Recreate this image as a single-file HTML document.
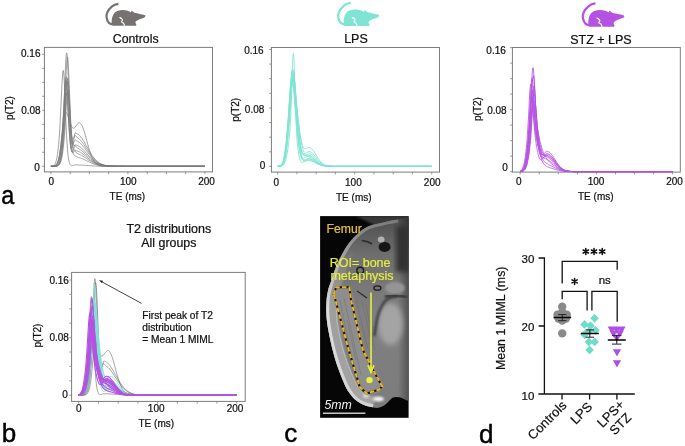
<!DOCTYPE html>
<html><head><meta charset="utf-8"><title>Figure</title>
<style>
html,body{margin:0;padding:0;background:#fff;}
body{width:685px;height:446px;overflow:hidden;font-family:"Liberation Sans", sans-serif;}
svg{display:block;will-change:transform;}
text{stroke:#111;stroke-width:0.22px;}
text.c{stroke:none;}
text.p{stroke:#000;stroke-width:0.45px;}
</style></head><body>
<svg width="685" height="446" viewBox="0 0 685 446" font-family='"Liberation Sans", sans-serif' fill="#111">
<rect width="685" height="446" fill="#fff"/>
<g transform="translate(0,0) scale(1.0)"><path d="M118.4,3.8 C115.5,4.1 113.3,5.2 111.8,6.6 C109.5,8.5 107.9,10.5 107.2,12.6 C106.4,14.6 106.3,16.1 106.6,17.7 C106.9,19.8 107.7,21.4 108.7,22.6 C109.8,23.6 111,24.1 112.3,24.3" stroke="#767271" stroke-width="2.2" fill="none"/><path d="M112.4,25.8 C111.6,23.5 111.4,21 111.9,19.1 C112.3,16.8 112.8,15 113.8,13.9 C114.8,12.5 116,11.6 117.3,11.1 C119,10.4 121,10.1 122.9,10.1 C124.6,10.1 126.3,10.4 127.7,10.8 C129,11.3 130.2,11.9 130.9,12.5 L131.6,10.6 L134.4,12.8 C136.2,13.2 138,13.5 139.6,13.9 C141.4,14.2 143.1,14.5 144.5,14.9 C145.3,15.1 145.7,15.6 145.5,16.1 C145.3,16.8 144.9,17.2 144.5,17.4 C142.8,18 141.2,18.6 139.6,19.2 C138.2,19.8 136.8,20.6 135.7,21.5 C135.2,22.3 135.5,23.3 136.1,24.0 C136.4,24.6 136.4,25.2 136.1,25.8 Z" fill="#767271"/><path d="M119.2,17.2 L121.4,17.8 L122.4,19.3 L121,18.9 Z" fill="#fff"/><path d="M119.5,17.6 L121.1,18.3 C122,19 122.6,19.6 122.5,20.2 C122.3,20.9 121.6,21.4 121.5,21.9 C121.7,22.5 123,22.8 123.5,23.2 C124.1,24 124.4,25.2 124.6,26.6" stroke="#fff" stroke-width="1.1" stroke-linejoin="round" fill="none"/></g>
<g transform="translate(226.4,-1.1) scale(1.05)"><path d="M118.4,3.8 C115.5,4.1 113.3,5.2 111.8,6.6 C109.5,8.5 107.9,10.5 107.2,12.6 C106.4,14.6 106.3,16.1 106.6,17.7 C106.9,19.8 107.7,21.4 108.7,22.6 C109.8,23.6 111,24.1 112.3,24.3" stroke="#80e4d4" stroke-width="2.2" fill="none"/><path d="M112.4,25.8 C111.6,23.5 111.4,21 111.9,19.1 C112.3,16.8 112.8,15 113.8,13.9 C114.8,12.5 116,11.6 117.3,11.1 C119,10.4 121,10.1 122.9,10.1 C124.6,10.1 126.3,10.4 127.7,10.8 C129,11.3 130.2,11.9 130.9,12.5 L131.6,10.6 L134.4,12.8 C136.2,13.2 138,13.5 139.6,13.9 C141.4,14.2 143.1,14.5 144.5,14.9 C145.3,15.1 145.7,15.6 145.5,16.1 C145.3,16.8 144.9,17.2 144.5,17.4 C142.8,18 141.2,18.6 139.6,19.2 C138.2,19.8 136.8,20.6 135.7,21.5 C135.2,22.3 135.5,23.3 136.1,24.0 C136.4,24.6 136.4,25.2 136.1,25.8 Z" fill="#80e4d4"/><path d="M119.2,17.2 L121.4,17.8 L122.4,19.3 L121,18.9 Z" fill="#fff"/><path d="M119.5,17.6 L121.1,18.3 C122,19 122.6,19.6 122.5,20.2 C122.3,20.9 121.6,21.4 121.5,21.9 C121.7,22.5 123,22.8 123.5,23.2 C124.1,24 124.4,25.2 124.6,26.6" stroke="#fff" stroke-width="1.1" stroke-linejoin="round" fill="none"/></g>
<g transform="translate(469.6,-0.7) scale(1.063)"><path d="M118.4,3.8 C115.5,4.1 113.3,5.2 111.8,6.6 C109.5,8.5 107.9,10.5 107.2,12.6 C106.4,14.6 106.3,16.1 106.6,17.7 C106.9,19.8 107.7,21.4 108.7,22.6 C109.8,23.6 111,24.1 112.3,24.3" stroke="#b552e4" stroke-width="2.2" fill="none"/><path d="M112.4,25.8 C111.6,23.5 111.4,21 111.9,19.1 C112.3,16.8 112.8,15 113.8,13.9 C114.8,12.5 116,11.6 117.3,11.1 C119,10.4 121,10.1 122.9,10.1 C124.6,10.1 126.3,10.4 127.7,10.8 C129,11.3 130.2,11.9 130.9,12.5 L131.6,10.6 L134.4,12.8 C136.2,13.2 138,13.5 139.6,13.9 C141.4,14.2 143.1,14.5 144.5,14.9 C145.3,15.1 145.7,15.6 145.5,16.1 C145.3,16.8 144.9,17.2 144.5,17.4 C142.8,18 141.2,18.6 139.6,19.2 C138.2,19.8 136.8,20.6 135.7,21.5 C135.2,22.3 135.5,23.3 136.1,24.0 C136.4,24.6 136.4,25.2 136.1,25.8 Z" fill="#b552e4"/><path d="M119.2,17.2 L121.4,17.8 L122.4,19.3 L121,18.9 Z" fill="#fff"/><path d="M119.5,17.6 L121.1,18.3 C122,19 122.6,19.6 122.5,20.2 C122.3,20.9 121.6,21.4 121.5,21.9 C121.7,22.5 123,22.8 123.5,23.2 C124.1,24 124.4,25.2 124.6,26.6" stroke="#fff" stroke-width="1.1" stroke-linejoin="round" fill="none"/></g>
<text x="135.7" y="42.9" text-anchor="middle" font-size="12.3">Controls</text>
<text x="356" y="42.6" text-anchor="middle" font-size="12.5">LPS</text>
<text x="600.9" y="43.6" text-anchor="middle" font-size="12.5">STZ + LPS</text>
<rect x="44.4" y="47.4" width="168.1" height="124.5" fill="none" stroke="#7c7c7c" stroke-width="1"/>
<path d="M42.2,166.3H44.4M42.2,152.3H44.4M42.2,138.3H44.4M42.2,124.3H44.4M42.2,110.3H44.4M42.2,96.3H44.4M42.2,82.3H44.4M42.2,68.3H44.4M42.2,54.3H44.4M50.9,171.9V174.1M70.2,171.9V174.1M89.4,171.9V174.1M108.7,171.9V174.1M127.9,171.9V174.1M147.2,171.9V174.1M166.4,171.9V174.1M185.7,171.9V174.1M204.9,171.9V174.1" stroke="#7c7c7c" stroke-width="0.8" fill="none"/>
<text x="40.5" y="57.4" text-anchor="end" font-size="10">0.16</text>
<text x="40.6" y="113.6" text-anchor="end" font-size="10">0.08</text>
<text x="39.7" y="170.6" text-anchor="end" font-size="10">0</text>
<text x="51.2" y="184.6" text-anchor="middle" font-size="10">0</text>
<text x="128.3" y="184.6" text-anchor="middle" font-size="10">100</text>
<text x="206.6" y="184.6" text-anchor="middle" font-size="10">200</text>
<text x="109.6" y="200.1" font-size="10">TE (ms)</text>
<text transform="translate(9,108) rotate(-90)" text-anchor="middle" font-size="10" dy="3.6">p(T2)</text>
<path d="M50.9,166.3 51.7,166.3 52.4,166.3 53.2,166.3 54,166.3 54.4,166.2 54.8,166.2 55.1,166.1 55.5,166.1 55.9,166 56.3,165.8 56.7,165.6 57.1,165.3 57.4,164.9 57.8,164.4 58.2,163.7 58.6,162.8 59,161.7 59.4,160.4 59.8,158.7 60.1,156.6 60.5,154.2 60.9,151.3 61.3,147.9 61.7,144 62.1,139.5 62.5,134.3 62.8,128.3 63.2,121.4 63.6,113.5 64,104.6 64.4,95.1 64.8,85.1 65.1,75.2 65.5,66.3 65.9,59.2 66.3,54.5 66.7,52.9 67.1,54.6 67.5,59.4 67.8,66.9 68.2,76.2 68.6,86.4 69,96.9 69.4,106.8 69.8,115.9 70.2,124 70.5,130.9 70.9,136.6 71.3,141.4 71.7,145.3 72.1,148.3 72.5,150.7 72.8,152.4 73.2,153.6 73.6,154.4 74,155 74.4,155.3 74.8,155.5 75.2,155.8 75.5,156.1 75.9,156.4 76.3,156.7 76.7,156.9 77.1,157.1 77.5,157.2 77.8,157.3 78.2,157.4 78.6,157.5 79,157.6 79.4,157.7 79.8,157.8 80.2,157.9 80.5,158.1 80.9,158.2 81.3,158.3 81.7,158.5 82.5,158.8 83.2,159.1 84,159.5 84.8,159.8 85.5,160.2 86.3,160.6 87.1,161 87.9,161.3 88.6,161.7 89.4,162.1 90.2,162.4 90.9,162.8 91.7,163.1 92.5,163.4 93.2,163.7 94,164 94.8,164.2 95.6,164.5 96.3,164.7 97.1,164.9 97.9,165.1 98.6,165.2 99.4,165.4 100.2,165.5 101,165.6 101.7,165.7 102.5,165.8 103.3,165.9 104,165.9 104.8,166 105.6,166.1 106.3,166.1 107.1,166.1 107.9,166.2 108.7,166.2 109.4,166.2 110.2,166.2 111,166.2 111.7,166.3 112.5,166.3 113.3,166.3 114,166.3 114.8,166.3 115.6,166.3 116.3,166.3 117.1,166.3 117.9,166.3 118.7,166.3 119.4,166.3 120.2,166.3 121,166.3 121.7,166.3 122.5,166.3 123.3,166.3 124.1,166.3 204.9,166.3" stroke="#7a7a7a" stroke-width="0.7" fill="none"/>
<path d="M50.9,166.3 51.7,166.3 52.4,166.3 53.2,166.3 54,166.3 54.4,166.3 54.8,166.3 55.1,166.2 55.5,166.2 55.9,166.2 56.3,166.1 56.7,166 57.1,165.8 57.4,165.6 57.8,165.3 58.2,165 58.6,164.5 59,163.8 59.4,163 59.8,161.9 60.1,160.6 60.5,159 60.9,157 61.3,154.6 61.7,151.9 62.1,148.6 62.5,144.8 62.8,140.5 63.2,135.5 63.6,129.7 64,123 64.4,115.4 64.8,106.9 65.1,97.7 65.5,88.1 65.9,78.6 66.3,70 66.7,63.1 67.1,58.6 67.5,57.1 67.8,58.7 68.2,63.3 68.6,70.5 69,79.4 69.4,89.1 69.8,99.1 70.2,108.5 70.5,117 70.9,124.4 71.3,130.7 71.7,135.8 72.1,139.9 72.5,143.1 72.8,145.5 73.2,147.2 73.6,148.5 74,149.3 74.4,150 74.8,150.5 75.2,151 75.5,151.6 75.9,152.2 76.3,152.7 76.7,153 77.1,153.3 77.5,153.6 77.8,153.7 78.2,153.9 78.6,154.1 79,154.2 79.4,154.4 79.8,154.6 80.2,154.7 80.5,154.9 80.9,155.1 81.3,155.3 81.7,155.5 82.5,155.9 83.2,156.4 84,156.9 84.8,157.4 85.5,157.9 86.3,158.4 87.1,158.9 87.9,159.4 88.6,160 89.4,160.5 90.2,161 90.9,161.4 91.7,161.9 92.5,162.3 93.2,162.7 94,163.1 94.8,163.4 95.6,163.8 96.3,164.1 97.1,164.3 97.9,164.6 98.6,164.8 99.4,165 100.2,165.2 101,165.4 101.7,165.5 102.5,165.6 103.3,165.7 104,165.8 104.8,165.9 105.6,166 106.3,166 107.1,166.1 107.9,166.1 108.7,166.1 109.4,166.2 110.2,166.2 111,166.2 111.7,166.2 112.5,166.2 113.3,166.3 114,166.3 114.8,166.3 115.6,166.3 116.3,166.3 117.1,166.3 117.9,166.3 118.7,166.3 119.4,166.3 120.2,166.3 121,166.3 121.7,166.3 122.5,166.3 123.3,166.3 124.1,166.3 204.9,166.3" stroke="#7a7a7a" stroke-width="0.7" fill="none"/>
<path d="M50.9,166.3 51.7,166.3 52.4,166.3 53.2,166.2 54,166.1 54.4,166 54.8,165.9 55.1,165.7 55.5,165.5 55.9,165.3 56.3,164.9 56.7,164.5 57.1,163.9 57.4,163.3 57.8,162.4 58.2,161.4 58.6,160.2 59,158.7 59.4,157 59.8,155.1 60.1,152.8 60.5,150.3 60.9,147.5 61.3,144.4 61.7,140.8 62.1,136.8 62.5,132.3 62.8,127.2 63.2,121.4 63.6,115 64,107.9 64.4,100.6 64.8,93.3 65.1,86.7 65.5,81.4 65.9,77.9 66.3,76.7 66.7,78 67.1,81.9 67.5,87.7 67.8,95.1 68.2,103.2 68.6,111.4 69,119.3 69.4,126.4 69.8,132.6 70.2,138 70.5,142.4 70.9,145.9 71.3,148.6 71.7,150.6 72.1,151.9 72.5,152.6 72.8,152.9 73.2,152.7 73.6,152.2 74,151.6 74.4,151 74.8,150.5 75.2,150.3 75.5,150.3 75.9,150.5 76.3,150.7 76.7,150.8 77.1,150.9 77.5,151.1 77.8,151.2 78.2,151.3 78.6,151.5 79,151.6 79.4,151.8 79.8,152 80.2,152.2 80.5,152.4 80.9,152.6 81.3,152.8 81.7,153.1 82.5,153.6 83.2,154.2 84,154.8 84.8,155.4 85.5,156 86.3,156.6 87.1,157.3 87.9,157.9 88.6,158.6 89.4,159.2 90.2,159.8 90.9,160.4 91.7,160.9 92.5,161.4 93.2,161.9 94,162.4 94.8,162.8 95.6,163.2 96.3,163.6 97.1,163.9 97.9,164.2 98.6,164.5 99.4,164.7 100.2,165 101,165.1 101.7,165.3 102.5,165.5 103.3,165.6 104,165.7 104.8,165.8 105.6,165.9 106.3,166 107.1,166 107.9,166.1 108.7,166.1 109.4,166.1 110.2,166.2 111,166.2 111.7,166.2 112.5,166.2 113.3,166.2 114,166.3 114.8,166.3 115.6,166.3 116.3,166.3 117.1,166.3 117.9,166.3 118.7,166.3 119.4,166.3 120.2,166.3 121,166.3 121.7,166.3 122.5,166.3 123.3,166.3 124.1,166.3 204.9,166.3" stroke="#7a7a7a" stroke-width="0.7" fill="none"/>
<path d="M50.9,166.3 51.7,166.3 52.4,166.3 53.2,166.3 54,166.3 54.4,166.3 54.8,166.3 55.1,166.3 55.5,166.2 55.9,166.2 56.3,166.2 56.7,166.1 57.1,166 57.4,165.9 57.8,165.7 58.2,165.4 58.6,165.1 59,164.6 59.4,164 59.8,163.3 60.1,162.4 60.5,161.2 60.9,159.8 61.3,158.1 61.7,156 62.1,153.6 62.5,150.8 62.8,147.6 63.2,143.9 63.6,139.6 64,134.7 64.4,129 64.8,122.5 65.1,115.4 65.5,107.8 65.9,100 66.3,92.6 66.7,86.1 67.1,81.2 67.5,78.5 67.8,78.2 68.2,80.5 68.6,85.1 69,91.4 69.4,98.9 69.8,106.7 70.2,114.4 70.5,121.5 70.9,127.6 71.3,132.8 71.7,136.9 72.1,140 72.5,142.2 72.8,143.7 73.2,144.6 73.6,145.1 74,145.2 74.4,145.3 74.8,145.3 75.2,145.6 75.5,146 75.9,146.6 76.3,147.1 76.7,147.5 77.1,147.8 77.5,148 77.8,148.3 78.2,148.5 78.6,148.7 79,148.9 79.4,149.1 79.8,149.3 80.2,149.6 80.5,149.8 80.9,150.1 81.3,150.4 81.7,150.7 82.5,151.3 83.2,152 84,152.7 84.8,153.4 85.5,154.1 86.3,154.9 87.1,155.6 87.9,156.4 88.6,157.1 89.4,157.9 90.2,158.6 90.9,159.3 91.7,159.9 92.5,160.5 93.2,161.1 94,161.7 94.8,162.2 95.6,162.7 96.3,163.1 97.1,163.5 97.9,163.8 98.6,164.2 99.4,164.4 100.2,164.7 101,164.9 101.7,165.1 102.5,165.3 103.3,165.5 104,165.6 104.8,165.7 105.6,165.8 106.3,165.9 107.1,166 107.9,166 108.7,166.1 109.4,166.1 110.2,166.2 111,166.2 111.7,166.2 112.5,166.2 113.3,166.2 114,166.3 114.8,166.3 115.6,166.3 116.3,166.3 117.1,166.3 117.9,166.3 118.7,166.3 119.4,166.3 120.2,166.3 121,166.3 121.7,166.3 122.5,166.3 123.3,166.3 124.1,166.3 204.9,166.3" stroke="#7a7a7a" stroke-width="0.7" fill="none"/>
<path d="M50.9,166.3 51.7,166.3 52.4,166.2 53.2,166.2 54,166 54.4,165.9 54.8,165.8 55.1,165.6 55.5,165.3 55.9,165 56.3,164.5 56.7,164 57.1,163.3 57.4,162.5 57.8,161.5 58.2,160.4 58.6,159 59,157.3 59.4,155.4 59.8,153.3 60.1,150.8 60.5,148.1 60.9,145 61.3,141.6 61.7,137.8 62.1,133.4 62.5,128.5 62.8,122.8 63.2,116.6 63.6,109.8 64,102.6 64.4,95.6 64.8,89.2 65.1,84 65.5,80.7 65.9,79.5 66.3,80.8 66.7,84.5 67.1,90.2 67.5,97.3 67.8,105.2 68.2,113.1 68.6,120.8 69,127.7 69.4,133.8 69.8,138.9 70.2,143.2 70.5,146.5 70.9,149.1 71.3,150.9 71.7,152 72.1,152.4 72.5,152.2 72.8,151.5 73.2,150.5 73.6,149.2 74,147.8 74.4,146.6 74.8,145.6 75.2,145 75.5,144.9 75.9,145 76.3,145.2 76.7,145.3 77.1,145.4 77.5,145.6 77.8,145.7 78.2,145.9 78.6,146.1 79,146.3 79.4,146.5 79.8,146.8 80.2,147 80.5,147.3 80.9,147.6 81.3,147.9 81.7,148.3 82.5,149 83.2,149.7 84,150.6 84.8,151.4 85.5,152.3 86.3,153.1 87.1,154 87.9,154.9 88.6,155.7 89.4,156.6 90.2,157.4 90.9,158.2 91.7,158.9 92.5,159.7 93.2,160.3 94,161 94.8,161.5 95.6,162.1 96.3,162.6 97.1,163 97.9,163.5 98.6,163.8 99.4,164.2 100.2,164.5 101,164.7 101.7,165 102.5,165.2 103.3,165.3 104,165.5 104.8,165.6 105.6,165.7 106.3,165.8 107.1,165.9 107.9,166 108.7,166 109.4,166.1 110.2,166.1 111,166.2 111.7,166.2 112.5,166.2 113.3,166.2 114,166.2 114.8,166.3 115.6,166.3 116.3,166.3 117.1,166.3 117.9,166.3 118.7,166.3 119.4,166.3 120.2,166.3 121,166.3 121.7,166.3 122.5,166.3 123.3,166.3 124.1,166.3 204.9,166.3" stroke="#7a7a7a" stroke-width="0.7" fill="none"/>
<path d="M50.9,166.3 51.7,166.3 52.4,166.3 53.2,166.3 54,166.3 54.4,166.3 54.8,166.2 55.1,166.2 55.5,166.2 55.9,166.1 56.3,166 56.7,165.9 57.1,165.8 57.4,165.6 57.8,165.3 58.2,164.9 58.6,164.4 59,163.7 59.4,162.9 59.8,161.8 60.1,160.6 60.5,159 60.9,157.2 61.3,155 61.7,152.5 62.1,149.5 62.5,146.1 62.8,142.2 63.2,137.7 63.6,132.4 64,126.5 64.4,119.9 64.8,112.6 65.1,105.1 65.5,97.7 65.9,91 66.3,85.6 66.7,82.1 67.1,80.9 67.5,82.1 67.8,85.7 68.2,91.3 68.6,98.2 69,105.8 69.4,113.4 69.8,120.6 70.2,127 70.5,132.5 70.9,136.8 71.3,140.2 71.7,142.6 72.1,144 72.5,144.6 72.8,144.6 73.2,144 73.6,143.1 74,142 74.4,141 74.8,140.2 75.2,139.8 75.5,139.9 75.9,140.3 76.3,140.6 76.7,140.8 77.1,141.1 77.5,141.3 77.8,141.5 78.2,141.8 78.6,142 79,142.3 79.4,142.5 79.8,142.8 80.2,143.2 80.5,143.5 80.9,143.9 81.3,144.3 81.7,144.7 82.5,145.5 83.2,146.4 84,147.4 84.8,148.4 85.5,149.4 86.3,150.5 87.1,151.5 87.9,152.6 88.6,153.6 89.4,154.6 90.2,155.6 90.9,156.6 91.7,157.5 92.5,158.3 93.2,159.1 94,159.9 94.8,160.6 95.6,161.3 96.3,161.8 97.1,162.4 97.9,162.9 98.6,163.3 99.4,163.7 100.2,164.1 101,164.4 101.7,164.7 102.5,164.9 103.3,165.1 104,165.3 104.8,165.5 105.6,165.6 106.3,165.7 107.1,165.8 107.9,165.9 108.7,166 109.4,166 110.2,166.1 111,166.1 111.7,166.2 112.5,166.2 113.3,166.2 114,166.2 114.8,166.2 115.6,166.3 116.3,166.3 117.1,166.3 117.9,166.3 118.7,166.3 119.4,166.3 120.2,166.3 121,166.3 121.7,166.3 122.5,166.3 123.3,166.3 124.1,166.3 204.9,166.3" stroke="#7a7a7a" stroke-width="0.7" fill="none"/>
<path d="M50.9,166.3 51.7,166.3 52.4,166.3 53.2,166.3 54,166.3 54.4,166.3 54.8,166.3 55.1,166.3 55.5,166.3 55.9,166.2 56.3,166.2 56.7,166.1 57.1,166.1 57.4,166 57.8,165.8 58.2,165.6 58.6,165.4 59,165 59.4,164.6 59.8,164 60.1,163.3 60.5,162.3 60.9,161.2 61.3,159.9 61.7,158.2 62.1,156.3 62.5,154.1 62.8,151.4 63.2,148.4 63.6,145 64,140.9 64.4,136.3 64.8,131.1 65.1,125.2 65.5,118.8 65.9,112.1 66.3,105.6 66.7,99.6 67.1,94.8 67.5,91.7 67.8,90.6 68.2,91.6 68.6,94.7 69,99.5 69.4,105.4 69.8,111.9 70.2,118.2 70.5,124.1 70.9,129.1 71.3,133.1 71.7,136.1 72.1,138 72.5,139 72.8,139.3 73.2,138.9 73.6,138.1 74,137.1 74.4,136.2 74.8,135.5 75.2,135.3 75.5,135.6 75.9,136.2 76.3,136.6 76.7,137 77.1,137.4 77.5,137.7 77.8,138 78.2,138.3 78.6,138.6 79,138.9 79.4,139.2 79.8,139.6 80.2,139.9 80.5,140.3 80.9,140.8 81.3,141.2 81.7,141.7 82.5,142.6 83.2,143.7 84,144.8 84.8,145.9 85.5,147.1 86.3,148.3 87.1,149.5 87.9,150.7 88.6,151.9 89.4,153 90.2,154.1 90.9,155.2 91.7,156.2 92.5,157.2 93.2,158.1 94,159 94.8,159.8 95.6,160.5 96.3,161.2 97.1,161.9 97.9,162.4 98.6,162.9 99.4,163.4 100.2,163.8 101,164.1 101.7,164.5 102.5,164.7 103.3,165 104,165.2 104.8,165.4 105.6,165.5 106.3,165.7 107.1,165.8 107.9,165.9 108.7,165.9 109.4,166 110.2,166.1 111,166.1 111.7,166.1 112.5,166.2 113.3,166.2 114,166.2 114.8,166.2 115.6,166.3 116.3,166.3 117.1,166.3 117.9,166.3 118.7,166.3 119.4,166.3 120.2,166.3 121,166.3 121.7,166.3 122.5,166.3 123.3,166.3 124.1,166.3 204.9,166.3" stroke="#7a7a7a" stroke-width="0.7" fill="none"/>
<path d="M50.9,166.3 51.7,166.3 52.4,166.3 53.2,166.2 54,166.1 54.4,166.1 54.8,166 55.1,165.8 55.5,165.7 55.9,165.5 56.3,165.2 56.7,164.8 57.1,164.4 57.4,163.8 57.8,163.1 58.2,162.3 58.6,161.3 59,160.1 59.4,158.7 59.8,157.1 60.1,155.3 60.5,153.2 60.9,150.9 61.3,148.3 61.7,145.4 62.1,142.1 62.5,138.4 62.8,134.3 63.2,129.5 63.6,124.2 64,118.4 64.4,112.4 64.8,106.4 65.1,101 65.5,96.6 65.9,93.8 66.3,92.8 66.7,93.9 67.1,97 67.5,101.8 67.8,107.8 68.2,114.4 68.6,121 69,127.3 69.4,133 69.8,137.8 70.2,141.7 70.5,144.7 70.9,146.8 71.3,148 71.7,148.4 72.1,147.9 72.5,146.8 72.8,145 73.2,142.8 73.6,140.4 74,138 74.4,135.9 74.8,134.2 75.2,133.1 75.5,132.9 75.9,133.1 76.3,133.3 76.7,133.4 77.1,133.6 77.5,133.8 77.8,134.1 78.2,134.3 78.6,134.6 79,134.9 79.4,135.3 79.8,135.7 80.2,136.1 80.5,136.5 80.9,137 81.3,137.5 81.7,138 82.5,139.2 83.2,140.4 84,141.6 84.8,142.9 85.5,144.3 86.3,145.7 87.1,147 87.9,148.4 88.6,149.8 89.4,151.1 90.2,152.4 90.9,153.6 91.7,154.8 92.5,155.9 93.2,156.9 94,157.9 94.8,158.9 95.6,159.7 96.3,160.5 97.1,161.2 97.9,161.8 98.6,162.4 99.4,163 100.2,163.4 101,163.8 101.7,164.2 102.5,164.5 103.3,164.8 104,165 104.8,165.2 105.6,165.4 106.3,165.6 107.1,165.7 107.9,165.8 108.7,165.9 109.4,166 110.2,166 111,166.1 111.7,166.1 112.5,166.2 113.3,166.2 114,166.2 114.8,166.2 115.6,166.2 116.3,166.3 117.1,166.3 117.9,166.3 118.7,166.3 119.4,166.3 120.2,166.3 121,166.3 121.7,166.3 122.5,166.3 123.3,166.3 124.1,166.3 204.9,166.3" stroke="#7a7a7a" stroke-width="0.7" fill="none"/>
<path d="M50.9,166.3 51.7,166.2 52.4,166.1 53.2,165.8 54,165.3 54.4,164.9 54.8,164.4 55.1,163.8 55.5,162.9 55.9,161.8 56.3,160.5 56.7,158.9 57.1,156.9 57.4,154.5 57.8,151.7 58.2,148.4 58.6,144.6 59,140.2 59.4,135.1 59.8,129.2 60.1,122.4 60.5,114.8 60.9,106.6 61.3,98 61.7,89.6 62.1,81.9 62.5,75.8 62.8,71.8 63.2,70.4 63.6,72 64,76.6 64.4,83.7 64.8,92.5 65.1,102.3 65.5,112.2 65.9,121.6 66.3,130.2 66.7,137.6 67.1,143.9 67.5,149.1 67.8,153.2 68.2,156.5 68.6,159.1 69,161.1 69.4,162.6 69.8,163.7 70.2,164.5 70.5,165 70.9,165.3 71.3,165.6 71.7,165.6 72.1,165.7 72.5,165.6 72.8,165.5 73.2,165.4 73.6,165.3 74,165.2 74.4,165.1 74.8,165 75.2,164.9 75.5,164.9 75.9,164.9 76.3,164.9 76.7,164.9 77.1,164.9 77.5,164.9 77.8,164.9 78.2,164.9 78.6,165 79,165 79.4,165 79.8,165 80.2,165 80.5,165 80.9,165.1 81.3,165.1 81.7,165.1 82.5,165.1 83.2,165.2 84,165.3 84.8,165.3 85.5,165.4 86.3,165.4 87.1,165.5 87.9,165.5 88.6,165.6 89.4,165.7 90.2,165.7 90.9,165.8 91.7,165.8 92.5,165.9 93.2,165.9 94,165.9 94.8,166 95.6,166 96.3,166.1 97.1,166.1 97.9,166.1 98.6,166.1 99.4,166.2 100.2,166.2 101,166.2 101.7,166.2 102.5,166.2 103.3,166.2 104,166.2 104.8,166.3 105.6,166.3 106.3,166.3 107.1,166.3 107.9,166.3 108.7,166.3 109.4,166.3 110.2,166.3 111,166.3 111.7,166.3 112.5,166.3 113.3,166.3 114,166.3 114.8,166.3 115.6,166.3 116.3,166.3 117.1,166.3 117.9,166.3 118.7,166.3 119.4,166.3 120.2,166.3 121,166.3 121.7,166.3 122.5,166.3 123.3,166.3 124.1,166.3 204.9,166.3" stroke="#7a7a7a" stroke-width="0.7" fill="none"/>
<path d="M50.9,166.3 51.7,166.3 52.4,166.3 53.2,166.2 54,166.2 54.4,166.1 54.8,166 55.1,165.9 55.5,165.7 55.9,165.4 56.3,165.1 56.7,164.6 57.1,164 57.4,163.2 57.8,162.3 58.2,161.1 58.6,159.6 59,157.8 59.4,155.7 59.8,153.3 60.1,150.6 60.5,147.6 60.9,144.2 61.3,140.7 61.7,136.9 62.1,133.1 62.5,129.4 62.8,125.7 63.2,122.3 63.6,119.3 64,116.8 64.4,114.8 64.8,113.4 65.1,112.7 65.5,112.4 65.9,112.4 66.3,112.6 66.7,113.1 67.1,113.8 67.5,114.6 67.8,115.6 68.2,116.7 68.6,117.8 69,119.1 69.4,120.3 69.8,121.5 70.2,122.7 70.5,123.8 70.9,124.8 71.3,125.7 71.7,126.5 72.1,127.2 72.5,127.6 72.8,128 73.2,128.2 73.6,128.2 74,128.1 74.4,127.9 74.8,127.6 75.2,127.2 75.5,126.7 75.9,126.2 76.3,125.6 76.7,125.1 77.1,124.5 77.5,124 77.8,123.6 78.2,123.2 78.6,123 79,122.8 79.4,122.8 79.8,122.9 80.2,123.1 80.5,123.4 80.9,123.8 81.3,124.4 81.7,125 82.5,126.6 83.2,128.5 84,130.8 84.8,133.4 85.5,136.1 86.3,139 87.1,141.8 87.9,144.7 88.6,147.4 89.4,150 90.2,152.4 90.9,154.6 91.7,156.6 92.5,158.3 93.2,159.9 94,161.1 94.8,162.2 95.6,163.1 96.3,163.8 97.1,164.4 97.9,164.9 98.6,165.2 99.4,165.5 100.2,165.7 101,165.9 101.7,166 102.5,166.1 103.3,166.2 104,166.2 104.8,166.2 105.6,166.3 106.3,166.3 107.1,166.3 107.9,166.3 108.7,166.3 109.4,166.3 110.2,166.3 111,166.3 111.7,166.3 112.5,166.3 113.3,166.3 114,166.3 114.8,166.3 115.6,166.3 116.3,166.3 117.1,166.3 117.9,166.3 118.7,166.3 119.4,166.3 120.2,166.3 121,166.3 121.7,166.3 122.5,166.3 123.3,166.3 124.1,166.3 204.9,166.3" stroke="#7a7a7a" stroke-width="0.7" fill="none"/>
<rect x="271.4" y="47.5" width="168.1" height="124.6" fill="none" stroke="#7c7c7c" stroke-width="1"/>
<path d="M269.2,166.4H271.4M269.2,151.8H271.4M269.2,137.2H271.4M269.2,122.6H271.4M269.2,108H271.4M269.2,93.3H271.4M269.2,78.7H271.4M269.2,64.1H271.4M269.2,49.5H271.4M277.7,172.1V174.3M296.9,172.1V174.3M316.2,172.1V174.3M335.4,172.1V174.3M354.7,172.1V174.3M373.9,172.1V174.3M393.2,172.1V174.3M412.4,172.1V174.3M431.7,172.1V174.3" stroke="#7c7c7c" stroke-width="0.8" fill="none"/>
<text x="263.7" y="54.2" text-anchor="end" font-size="10">0.16</text>
<text x="264.3" y="113.1" text-anchor="end" font-size="10">0.08</text>
<text x="265.2" y="169" text-anchor="end" font-size="10">0</text>
<text x="276.2" y="185.8" text-anchor="middle" font-size="10">0</text>
<text x="353.4" y="185.8" text-anchor="middle" font-size="10">100</text>
<text x="432.2" y="185.8" text-anchor="middle" font-size="10">200</text>
<text x="336" y="200.6" font-size="10">TE (ms)</text>
<text transform="translate(235.3,109.8) rotate(-90)" text-anchor="middle" font-size="10" dy="3.6">p(T2)</text>
<path d="M277.7,166.4 278.5,166.4 279.2,166.4 280,166.3 280.8,166.2 281.2,166.2 281.6,166.1 281.9,166 282.3,165.8 282.7,165.6 283.1,165.3 283.5,164.9 283.9,164.5 284.2,163.9 284.6,163.2 285,162.3 285.4,161.3 285.8,160.1 286.2,158.6 286.6,156.9 286.9,155 287.3,152.8 287.7,150.3 288.1,147.7 288.5,144.7 288.9,141.5 289.2,137.9 289.6,133.7 290,128.7 290.4,122.4 290.8,114.5 291.2,104.8 291.6,93.4 291.9,81.1 292.3,69.2 292.7,59.7 293.1,54 293.5,53.5 293.9,58.3 294.3,67.7 294.6,79.8 295,92.9 295.4,105.3 295.8,116.2 296.2,125.3 296.6,132.5 296.9,138.3 297.3,142.9 297.7,146.8 298.1,150.1 298.5,152.8 298.9,155.2 299.3,157.1 299.6,158.7 300,159.9 300.4,160.9 300.8,161.6 301.2,162.1 301.6,162.3 302,162.5 302.3,162.5 302.7,162.4 303.1,162.3 303.5,162.1 303.9,161.8 304.3,161.6 304.6,161.3 305,161 305.4,160.7 305.8,160.4 306.2,160.2 306.6,159.9 307,159.7 307.3,159.5 307.7,159.4 308.1,159.3 308.5,159.2 309.3,159.1 310,159.1 310.8,159.3 311.6,159.5 312.3,159.8 313.1,160.1 313.9,160.5 314.7,161 315.4,161.5 316.2,162 317,162.5 317.7,162.9 318.5,163.4 319.3,163.8 320.1,164.2 320.8,164.6 321.6,164.9 322.4,165.2 323.1,165.4 323.9,165.6 324.7,165.8 325.4,165.9 326.2,166 327,166.1 327.8,166.2 328.5,166.2 329.3,166.3 330.1,166.3 330.8,166.3 331.6,166.4 332.4,166.4 333.1,166.4 333.9,166.4 334.7,166.4 335.4,166.4 336.2,166.4 337,166.4 337.8,166.4 338.5,166.4 339.3,166.4 340.1,166.4 340.8,166.4 341.6,166.4 342.4,166.4 343.1,166.4 343.9,166.4 344.7,166.4 345.5,166.4 346.2,166.4 347,166.4 347.8,166.4 348.5,166.4 349.3,166.4 350.1,166.4 350.9,166.4 431.7,166.4" stroke="#80e4d4" stroke-width="0.9" fill="none"/>
<path d="M277.7,166.4 278.5,166.3 279.2,166.2 280,166 280.8,165.7 281.2,165.5 281.6,165.2 281.9,164.8 282.3,164.2 282.7,163.6 283.1,162.8 283.5,161.8 283.9,160.5 284.2,159.1 284.6,157.3 285,155.2 285.4,152.8 285.8,150 286.2,146.9 286.6,143.4 286.9,139.5 287.3,135.3 287.7,130.7 288.1,125.8 288.5,120.6 288.9,115.2 289.2,109.5 289.6,103.6 290,97.6 290.4,91.6 290.8,85.8 291.2,80.4 291.6,75.8 291.9,72.2 292.3,69.9 292.7,69.1 293.1,69.6 293.5,71.4 293.9,74.1 294.3,77.6 294.6,81.6 295,85.8 295.4,90.2 295.8,94.4 296.2,98.6 296.6,102.7 296.9,106.7 297.3,110.5 297.7,114.2 298.1,117.9 298.5,121.4 298.9,124.8 299.3,127.9 299.6,130.9 300,133.7 300.4,136.3 300.8,138.6 301.2,140.6 301.6,142.4 302,144 302.3,145.2 302.7,146.3 303.1,147.1 303.5,147.8 303.9,148.2 304.3,148.5 304.6,148.7 305,148.7 305.4,148.7 305.8,148.5 306.2,148.4 306.6,148.2 307,148 307.3,147.8 307.7,147.6 308.1,147.5 308.5,147.4 309.3,147.4 310,147.7 310.8,148.1 311.6,148.7 312.3,149.5 313.1,150.4 313.9,151.5 314.7,152.6 315.4,153.8 316.2,155.1 317,156.4 317.7,157.6 318.5,158.7 319.3,159.8 320.1,160.8 320.8,161.8 321.6,162.6 322.4,163.3 323.1,163.9 323.9,164.4 324.7,164.8 325.4,165.2 326.2,165.5 327,165.7 327.8,165.9 328.5,166 329.3,166.1 330.1,166.2 330.8,166.3 331.6,166.3 332.4,166.3 333.1,166.4 333.9,166.4 334.7,166.4 335.4,166.4 336.2,166.4 337,166.4 337.8,166.4 338.5,166.4 339.3,166.4 340.1,166.4 340.8,166.4 341.6,166.4 342.4,166.4 343.1,166.4 343.9,166.4 344.7,166.4 345.5,166.4 346.2,166.4 347,166.4 347.8,166.4 348.5,166.4 349.3,166.4 350.1,166.4 350.9,166.4 431.7,166.4" stroke="#80e4d4" stroke-width="0.9" fill="none"/>
<path d="M277.7,166.3 278.5,166.3 279.2,166.1 280,165.9 280.8,165.5 281.2,165.2 281.6,164.8 281.9,164.3 282.3,163.6 282.7,162.8 283.1,161.8 283.5,160.6 283.9,159.2 284.2,157.4 284.6,155.4 285,153 285.4,150.3 285.8,147.2 286.2,143.8 286.6,139.9 286.9,135.8 287.3,131.3 287.7,126.4 288.1,121.3 288.5,116 288.9,110.4 289.2,104.6 289.6,98.7 290,92.8 290.4,87 290.8,81.8 291.2,77.2 291.6,73.6 291.9,71.4 292.3,70.6 292.7,71.2 293.1,73.1 293.5,76 293.9,79.7 294.3,84 294.6,88.6 295,93.3 295.4,98 295.8,102.6 296.2,107.1 296.6,111.4 296.9,115.6 297.3,119.7 297.7,123.6 298.1,127.4 298.5,131 298.9,134.3 299.3,137.4 299.6,140.2 300,142.8 300.4,145 300.8,147 301.2,148.7 301.6,150.1 302,151.3 302.3,152.2 302.7,152.9 303.1,153.4 303.5,153.8 303.9,154 304.3,154 304.6,154 305,153.8 305.4,153.6 305.8,153.4 306.2,153.1 306.6,152.8 307,152.5 307.3,152.3 307.7,152.1 308.1,151.9 308.5,151.8 309.3,151.7 310,151.8 310.8,152.1 311.6,152.6 312.3,153.2 313.1,153.9 313.9,154.7 314.7,155.6 315.4,156.6 316.2,157.5 317,158.5 317.7,159.5 318.5,160.4 319.3,161.3 320.1,162 320.8,162.8 321.6,163.4 322.4,163.9 323.1,164.4 323.9,164.8 324.7,165.2 325.4,165.4 326.2,165.7 327,165.8 327.8,166 328.5,166.1 329.3,166.2 330.1,166.2 330.8,166.3 331.6,166.3 332.4,166.3 333.1,166.4 333.9,166.4 334.7,166.4 335.4,166.4 336.2,166.4 337,166.4 337.8,166.4 338.5,166.4 339.3,166.4 340.1,166.4 340.8,166.4 341.6,166.4 342.4,166.4 343.1,166.4 343.9,166.4 344.7,166.4 345.5,166.4 346.2,166.4 347,166.4 347.8,166.4 348.5,166.4 349.3,166.4 350.1,166.4 350.9,166.4 431.7,166.4" stroke="#80e4d4" stroke-width="0.9" fill="none"/>
<path d="M277.7,166.4 278.5,166.3 279.2,166.3 280,166.2 280.8,165.9 281.2,165.7 281.6,165.5 281.9,165.2 282.3,164.8 282.7,164.3 283.1,163.7 283.5,162.9 283.9,161.9 284.2,160.7 284.6,159.3 285,157.6 285.4,155.6 285.8,153.2 286.2,150.5 286.6,147.5 286.9,144.1 287.3,140.3 287.7,136.2 288.1,131.8 288.5,127.1 288.9,122 289.2,116.7 289.6,111.2 290,105.5 290.4,99.7 290.8,93.9 291.2,88.2 291.6,83 291.9,78.5 292.3,75 292.7,72.8 293.1,72 293.5,72.7 293.9,74.6 294.3,77.8 294.6,81.8 295,86.4 295.4,91.3 295.8,96.4 296.2,101.5 296.6,106.6 296.9,111.4 297.3,116.1 297.7,120.6 298.1,124.9 298.5,129 298.9,132.8 299.3,136.4 299.6,139.6 300,142.5 300.4,145.2 300.8,147.4 301.2,149.4 301.6,151.1 302,152.5 302.3,153.6 302.7,154.4 303.1,155 303.5,155.5 303.9,155.7 304.3,155.8 304.6,155.9 305,155.8 305.4,155.6 305.8,155.4 306.2,155.2 306.6,154.9 307,154.7 307.3,154.5 307.7,154.3 308.1,154.1 308.5,154 309.3,153.9 310,154 310.8,154.3 311.6,154.6 312.3,155.1 313.1,155.8 313.9,156.5 314.7,157.2 315.4,158 316.2,158.9 317,159.7 317.7,160.5 318.5,161.3 319.3,162 320.1,162.7 320.8,163.3 321.6,163.8 322.4,164.3 323.1,164.7 323.9,165.1 324.7,165.3 325.4,165.6 326.2,165.8 327,165.9 327.8,166 328.5,166.1 329.3,166.2 330.1,166.3 330.8,166.3 331.6,166.3 332.4,166.4 333.1,166.4 333.9,166.4 334.7,166.4 335.4,166.4 336.2,166.4 337,166.4 337.8,166.4 338.5,166.4 339.3,166.4 340.1,166.4 340.8,166.4 341.6,166.4 342.4,166.4 343.1,166.4 343.9,166.4 344.7,166.4 345.5,166.4 346.2,166.4 347,166.4 347.8,166.4 348.5,166.4 349.3,166.4 350.1,166.4 350.9,166.4 431.7,166.4" stroke="#80e4d4" stroke-width="0.9" fill="none"/>
<path d="M277.7,166.3 278.5,166.3 279.2,166.2 280,165.9 280.8,165.5 281.2,165.2 281.6,164.8 281.9,164.3 282.3,163.7 282.7,162.9 283.1,162 283.5,160.8 283.9,159.4 284.2,157.7 284.6,155.7 285,153.4 285.4,150.8 285.8,147.8 286.2,144.5 286.6,140.8 286.9,136.7 287.3,132.3 287.7,127.7 288.1,122.7 288.5,117.5 288.9,112.1 289.2,106.4 289.6,100.7 290,95 290.4,89.5 290.8,84.3 291.2,79.9 291.6,76.5 291.9,74.3 292.3,73.5 292.7,74.2 293.1,76.3 293.5,79.5 293.9,83.7 294.3,88.5 294.6,93.8 295,99.1 295.4,104.5 295.8,109.8 296.2,114.9 296.6,119.8 296.9,124.5 297.3,128.9 297.7,133.1 298.1,136.9 298.5,140.4 298.9,143.6 299.3,146.4 299.6,148.9 300,151 300.4,152.8 300.8,154.3 301.2,155.5 301.6,156.4 302,157.1 302.3,157.6 302.7,157.9 303.1,158.1 303.5,158.1 303.9,158.1 304.3,158 304.6,157.8 305,157.6 305.4,157.3 305.8,157.1 306.2,156.9 306.6,156.7 307,156.5 307.3,156.3 307.7,156.2 308.1,156.2 308.5,156.1 309.3,156.2 310,156.4 310.8,156.7 311.6,157.1 312.3,157.6 313.1,158.2 313.9,158.8 314.7,159.5 315.4,160.2 316.2,160.9 317,161.6 317.7,162.2 318.5,162.8 319.3,163.3 320.1,163.8 320.8,164.3 321.6,164.7 322.4,165 323.1,165.3 323.9,165.5 324.7,165.7 325.4,165.9 326.2,166 327,166.1 327.8,166.2 328.5,166.2 329.3,166.3 330.1,166.3 330.8,166.3 331.6,166.4 332.4,166.4 333.1,166.4 333.9,166.4 334.7,166.4 335.4,166.4 336.2,166.4 337,166.4 337.8,166.4 338.5,166.4 339.3,166.4 340.1,166.4 340.8,166.4 341.6,166.4 342.4,166.4 343.1,166.4 343.9,166.4 344.7,166.4 345.5,166.4 346.2,166.4 347,166.4 347.8,166.4 348.5,166.4 349.3,166.4 350.1,166.4 350.9,166.4 431.7,166.4" stroke="#80e4d4" stroke-width="0.9" fill="none"/>
<path d="M277.7,166.4 278.5,166.3 279.2,166.2 280,166.1 280.8,165.8 281.2,165.5 281.6,165.3 281.9,164.9 282.3,164.4 282.7,163.8 283.1,163 283.5,162.1 283.9,160.9 284.2,159.6 284.6,157.9 285,156 285.4,153.7 285.8,151.2 286.2,148.2 286.6,145 286.9,141.4 287.3,137.4 287.7,133.1 288.1,128.6 288.5,123.7 288.9,118.7 289.2,113.3 289.6,107.9 290,102.3 290.4,96.7 290.8,91.3 291.2,86.3 291.6,82 291.9,78.6 292.3,76.5 292.7,75.7 293.1,76.4 293.5,78.5 293.9,81.8 294.3,86.1 294.6,91 295,96.4 295.4,101.9 295.8,107.4 296.2,112.8 296.6,118 296.9,123 297.3,127.7 297.7,132.1 298.1,136.2 298.5,140 298.9,143.4 299.3,146.5 299.6,149.2 300,151.5 300.4,153.5 300.8,155.1 301.2,156.5 301.6,157.6 302,158.4 302.3,159 302.7,159.5 303.1,159.7 303.5,159.9 303.9,159.9 304.3,159.9 304.6,159.8 305,159.7 305.4,159.6 305.8,159.4 306.2,159.2 306.6,159.1 307,159 307.3,158.8 307.7,158.8 308.1,158.7 308.5,158.7 309.3,158.8 310,158.9 310.8,159.1 311.6,159.4 312.3,159.8 313.1,160.3 313.9,160.7 314.7,161.2 315.4,161.7 316.2,162.3 317,162.8 317.7,163.2 318.5,163.7 319.3,164.1 320.1,164.5 320.8,164.8 321.6,165.1 322.4,165.4 323.1,165.6 323.9,165.8 324.7,165.9 325.4,166 326.2,166.1 327,166.2 327.8,166.2 328.5,166.3 329.3,166.3 330.1,166.3 330.8,166.4 331.6,166.4 332.4,166.4 333.1,166.4 333.9,166.4 334.7,166.4 335.4,166.4 336.2,166.4 337,166.4 337.8,166.4 338.5,166.4 339.3,166.4 340.1,166.4 340.8,166.4 341.6,166.4 342.4,166.4 343.1,166.4 343.9,166.4 344.7,166.4 345.5,166.4 346.2,166.4 347,166.4 347.8,166.4 348.5,166.4 349.3,166.4 350.1,166.4 350.9,166.4 431.7,166.4" stroke="#80e4d4" stroke-width="0.9" fill="none"/>
<path d="M277.7,166.3 278.5,166.2 279.2,166.1 280,165.8 280.8,165.3 281.2,164.9 281.6,164.4 281.9,163.8 282.3,163.1 282.7,162.1 283.1,161 283.5,159.7 283.9,158 284.2,156.1 284.6,153.9 285,151.4 285.4,148.5 285.8,145.3 286.2,141.8 286.6,137.9 286.9,133.7 287.3,129.2 287.7,124.4 288.1,119.4 288.5,114.2 288.9,108.8 289.2,103.3 289.6,97.8 290,92.5 290.4,87.6 290.8,83.3 291.2,80 291.6,77.9 291.9,77.2 292.3,77.9 292.7,79.8 293.1,82.8 293.5,86.7 293.9,91.2 294.3,96 294.6,101 295,106 295.4,110.9 295.8,115.7 296.2,120.3 296.6,124.7 296.9,128.9 297.3,132.9 297.7,136.7 298.1,140.2 298.5,143.4 298.9,146.3 299.3,148.9 299.6,151.2 300,153.3 300.4,155 300.8,156.4 301.2,157.7 301.6,158.6 302,159.4 302.3,160 302.7,160.5 303.1,160.8 303.5,161 303.9,161.1 304.3,161.2 304.6,161.2 305,161.1 305.4,161 305.8,160.9 306.2,160.9 306.6,160.8 307,160.7 307.3,160.6 307.7,160.6 308.1,160.5 308.5,160.5 309.3,160.6 310,160.7 310.8,160.9 311.6,161.1 312.3,161.4 313.1,161.7 313.9,162.1 314.7,162.5 315.4,162.9 316.2,163.2 317,163.6 317.7,164 318.5,164.3 319.3,164.7 320.1,164.9 320.8,165.2 321.6,165.4 322.4,165.6 323.1,165.8 323.9,165.9 324.7,166 325.4,166.1 326.2,166.2 327,166.2 327.8,166.3 328.5,166.3 329.3,166.3 330.1,166.4 330.8,166.4 331.6,166.4 332.4,166.4 333.1,166.4 333.9,166.4 334.7,166.4 335.4,166.4 336.2,166.4 337,166.4 337.8,166.4 338.5,166.4 339.3,166.4 340.1,166.4 340.8,166.4 341.6,166.4 342.4,166.4 343.1,166.4 343.9,166.4 344.7,166.4 345.5,166.4 346.2,166.4 347,166.4 347.8,166.4 348.5,166.4 349.3,166.4 350.1,166.4 350.9,166.4 431.7,166.4" stroke="#80e4d4" stroke-width="0.9" fill="none"/>
<path d="M277.7,166.4 278.5,166.3 279.2,166.2 280,166.1 280.8,165.8 281.2,165.6 281.6,165.3 281.9,164.9 282.3,164.5 282.7,163.9 283.1,163.2 283.5,162.3 283.9,161.2 284.2,159.9 284.6,158.3 285,156.5 285.4,154.3 285.8,151.9 286.2,149.1 286.6,146 286.9,142.6 287.3,138.8 287.7,134.8 288.1,130.4 288.5,125.8 288.9,121 289.2,115.9 289.6,110.7 290,105.4 290.4,100.1 290.8,94.9 291.2,90.2 291.6,86 291.9,82.8 292.3,80.8 292.7,80.1 293.1,80.6 293.5,82 293.9,84.3 294.3,87.2 294.6,90.5 295,94.1 295.4,97.6 295.8,101.1 296.2,104.6 296.6,107.9 296.9,111.1 297.3,114.3 297.7,117.4 298.1,120.5 298.5,123.5 298.9,126.5 299.3,129.3 299.6,132.1 300,134.7 300.4,137.1 300.8,139.4 301.2,141.6 301.6,143.6 302,145.3 302.3,147 302.7,148.4 303.1,149.7 303.5,150.8 303.9,151.8 304.3,152.6 304.6,153.3 305,153.9 305.4,154.4 305.8,154.8 306.2,155.2 306.6,155.5 307,155.8 307.3,156 307.7,156.2 308.1,156.4 308.5,156.6 309.3,157 310,157.4 310.8,157.8 311.6,158.3 312.3,158.8 313.1,159.3 313.9,159.9 314.7,160.5 315.4,161.1 316.2,161.7 317,162.2 317.7,162.8 318.5,163.3 319.3,163.8 320.1,164.2 320.8,164.6 321.6,164.9 322.4,165.2 323.1,165.5 323.9,165.7 324.7,165.8 325.4,166 326.2,166.1 327,166.1 327.8,166.2 328.5,166.3 329.3,166.3 330.1,166.3 330.8,166.4 331.6,166.4 332.4,166.4 333.1,166.4 333.9,166.4 334.7,166.4 335.4,166.4 336.2,166.4 337,166.4 337.8,166.4 338.5,166.4 339.3,166.4 340.1,166.4 340.8,166.4 341.6,166.4 342.4,166.4 343.1,166.4 343.9,166.4 344.7,166.4 345.5,166.4 346.2,166.4 347,166.4 347.8,166.4 348.5,166.4 349.3,166.4 350.1,166.4 350.9,166.4 431.7,166.4" stroke="#80e4d4" stroke-width="0.9" fill="none"/>
<path d="M277.7,166.3 278.5,166.3 279.2,166.2 280,166 280.8,165.6 281.2,165.4 281.6,165 281.9,164.6 282.3,164 282.7,163.3 283.1,162.5 283.5,161.5 283.9,160.2 284.2,158.7 284.6,157 285,155 285.4,152.6 285.8,150 286.2,147 286.6,143.8 286.9,140.2 287.3,136.4 287.7,132.2 288.1,127.9 288.5,123.3 288.9,118.5 289.2,113.5 289.6,108.5 290,103.4 290.4,98.5 290.8,94 291.2,90.1 291.6,87.1 291.9,85.1 292.3,84.5 292.7,85 293.1,86.5 293.5,88.9 293.9,92 294.3,95.5 294.6,99.3 295,103.1 295.4,107 295.8,110.8 296.2,114.4 296.6,118 296.9,121.5 297.3,124.8 297.7,128.1 298.1,131.2 298.5,134.2 298.9,137 299.3,139.6 299.6,142.1 300,144.3 300.4,146.3 300.8,148 301.2,149.6 301.6,150.9 302,152 302.3,153 302.7,153.7 303.1,154.3 303.5,154.8 303.9,155.1 304.3,155.3 304.6,155.4 305,155.5 305.4,155.5 305.8,155.4 306.2,155.4 306.6,155.3 307,155.2 307.3,155.2 307.7,155.2 308.1,155.2 308.5,155.2 309.3,155.4 310,155.6 310.8,156 311.6,156.5 312.3,157 313.1,157.6 313.9,158.3 314.7,159 315.4,159.8 316.2,160.5 317,161.2 317.7,161.9 318.5,162.5 319.3,163.1 320.1,163.7 320.8,164.1 321.6,164.6 322.4,164.9 323.1,165.2 323.9,165.5 324.7,165.7 325.4,165.8 326.2,166 327,166.1 327.8,166.2 328.5,166.2 329.3,166.3 330.1,166.3 330.8,166.3 331.6,166.4 332.4,166.4 333.1,166.4 333.9,166.4 334.7,166.4 335.4,166.4 336.2,166.4 337,166.4 337.8,166.4 338.5,166.4 339.3,166.4 340.1,166.4 340.8,166.4 341.6,166.4 342.4,166.4 343.1,166.4 343.9,166.4 344.7,166.4 345.5,166.4 346.2,166.4 347,166.4 347.8,166.4 348.5,166.4 349.3,166.4 350.1,166.4 350.9,166.4 431.7,166.4" stroke="#80e4d4" stroke-width="0.9" fill="none"/>
<path d="M277.7,166.4 278.5,166.4 279.2,166.3 280,166.2 280.8,166.1 281.2,165.9 281.6,165.8 281.9,165.5 282.3,165.2 282.7,164.8 283.1,164.4 283.5,163.7 283.9,163 284.2,162 284.6,160.8 285,159.4 285.4,157.8 285.8,155.8 286.2,153.5 286.6,150.9 286.9,147.9 287.3,144.6 287.7,141 288.1,136.9 288.5,132.6 288.9,128 289.2,123.1 289.6,117.9 290,112.5 290.4,106.9 290.8,101.2 291.2,95.6 291.6,90.1 291.9,85 292.3,80.6 292.7,77.2 293.1,75 293.5,74.2 293.9,75 294.3,77.2 294.6,80.7 295,85.2 295.4,90.5 295.8,96.2 296.2,102 296.6,107.9 296.9,113.6 297.3,119.1 297.7,124.3 298.1,129.2 298.5,133.8 298.9,138 299.3,141.8 299.6,145.2 300,148.2 300.4,150.8 300.8,153 301.2,154.8 301.6,156.4 302,157.6 302.3,158.5 302.7,159.3 303.1,159.8 303.5,160.1 303.9,160.3 304.3,160.5 304.6,160.5 305,160.5 305.4,160.4 305.8,160.3 306.2,160.2 306.6,160.1 307,160 307.3,159.9 307.7,159.8 308.1,159.8 308.5,159.8 309.3,159.9 310,160 310.8,160.2 311.6,160.4 312.3,160.8 313.1,161.1 313.9,161.5 314.7,162 315.4,162.4 316.2,162.9 317,163.3 317.7,163.7 318.5,164.1 319.3,164.4 320.1,164.8 320.8,165 321.6,165.3 322.4,165.5 323.1,165.7 323.9,165.8 324.7,166 325.4,166.1 326.2,166.1 327,166.2 327.8,166.3 328.5,166.3 329.3,166.3 330.1,166.3 330.8,166.4 331.6,166.4 332.4,166.4 333.1,166.4 333.9,166.4 334.7,166.4 335.4,166.4 336.2,166.4 337,166.4 337.8,166.4 338.5,166.4 339.3,166.4 340.1,166.4 340.8,166.4 341.6,166.4 342.4,166.4 343.1,166.4 343.9,166.4 344.7,166.4 345.5,166.4 346.2,166.4 347,166.4 347.8,166.4 348.5,166.4 349.3,166.4 350.1,166.4 350.9,166.4 431.7,166.4" stroke="#80e4d4" stroke-width="0.9" fill="none"/>
<rect x="512.4" y="47.5" width="167.9" height="124.6" fill="none" stroke="#7c7c7c" stroke-width="1"/>
<path d="M510.2,171.6H512.4M510.2,156.1H512.4M510.2,140.6H512.4M510.2,125.1H512.4M510.2,109.6H512.4M510.2,94.1H512.4M510.2,78.6H512.4M510.2,63.1H512.4M510.2,47.6H512.4M520.2,172.1V174.3M539.2,172.1V174.3M558.3,172.1V174.3M577.4,172.1V174.3M596.4,172.1V174.3M615.5,172.1V174.3M634.5,172.1V174.3M653.6,172.1V174.3M672.6,172.1V174.3" stroke="#7c7c7c" stroke-width="0.8" fill="none"/>
<text x="505.8" y="53.6" text-anchor="end" font-size="10">0.16</text>
<text x="506.7" y="114" text-anchor="end" font-size="10">0.08</text>
<text x="507.9" y="170.5" text-anchor="end" font-size="10">0</text>
<text x="518.8" y="185.2" text-anchor="middle" font-size="10">0</text>
<text x="596.1" y="185.2" text-anchor="middle" font-size="10">100</text>
<text x="674.6" y="185.2" text-anchor="middle" font-size="10">200</text>
<text x="578" y="200.3" font-size="10">TE (ms)</text>
<text transform="translate(477.5,109) rotate(-90)" text-anchor="middle" font-size="10" dy="3.6">p(T2)</text>
<path d="M520.2,171.5 521,171.3 521.7,171.1 522.5,170.6 523.2,169.8 523.6,169.3 524,168.6 524.4,167.7 524.8,166.6 525.2,165.4 525.5,163.8 525.9,162.1 526.3,160 526.7,157.6 527.1,154.9 527.4,151.8 527.8,148.4 528.2,144.6 528.6,140.3 529,135.4 529.3,130 529.7,123.7 530.1,116.7 530.5,108.9 530.9,100.5 531.2,92 531.6,83.7 532,76.6 532.4,71.2 532.8,68.1 533.2,67.8 533.5,70.1 533.9,74.6 534.3,80.9 534.7,88.3 535.1,96 535.4,103.5 535.8,110.5 536.2,116.8 536.6,122.2 537,127 537.3,131.1 537.7,134.8 538.1,138 538.5,140.9 538.9,143.5 539.2,145.9 539.6,147.9 540,149.7 540.4,151.2 540.8,152.4 541.2,153.3 541.5,153.9 541.9,154.4 542.3,154.6 542.7,154.6 543.1,154.5 543.4,154.2 543.8,153.9 544.2,153.5 544.6,153 545,152.6 545.3,152.2 545.7,151.8 546.1,151.5 546.5,151.3 546.9,151.2 547.3,151.2 547.6,151.3 548,151.4 548.4,151.6 548.8,151.8 549.2,152 549.5,152.3 549.9,152.6 550.3,153 550.7,153.4 551.4,154.3 552.2,155.3 553,156.4 553.7,157.6 554.5,158.8 555.3,160 556,161.2 556.8,162.4 557.5,163.5 558.3,164.6 559.1,165.5 559.8,166.4 560.6,167.2 561.3,168 562.1,168.6 562.9,169.1 563.6,169.6 564.4,170 565.2,170.3 565.9,170.6 566.7,170.8 567.4,171 568.2,171.1 569,171.3 569.7,171.3 570.5,171.4 571.3,171.5 572,171.5 572.8,171.5 573.5,171.5 574.3,171.6 575.1,171.6 575.8,171.6 576.6,171.6 577.4,171.6 578.1,171.6 578.9,171.6 579.6,171.6 580.4,171.6 581.2,171.6 581.9,171.6 582.7,171.6 583.4,171.6 584.2,171.6 585,171.6 585.7,171.6 586.5,171.6 587.3,171.6 588,171.6 588.8,171.6 589.5,171.6 590.3,171.6 591.1,171.6 591.8,171.6 592.6,171.6 672.6,171.6" stroke="#b552e4" stroke-width="0.85" fill="none"/>
<path d="M520.2,171.1 521,170.6 521.7,169.9 522.5,168.6 523.2,166.7 523.6,165.4 524,163.8 524.4,162 524.8,160 525.2,157.6 525.5,154.9 525.9,151.8 526.3,148.3 526.7,144.4 527.1,139.8 527.4,134.7 527.8,128.9 528.2,122.4 528.6,115.3 529,107.9 529.3,100.6 529.7,94 530.1,88.7 530.5,85.2 530.9,84 531.2,85.1 531.6,88.1 532,92.8 532.4,98.6 532.8,104.9 533.2,111.3 533.5,117.2 533.9,122.6 534.3,127.3 534.7,131.4 535.1,135 535.4,138.2 535.8,141.2 536.2,143.8 536.6,146.3 537,148.5 537.3,150.6 537.7,152.5 538.1,154.2 538.5,155.7 538.9,156.9 539.2,158 539.6,158.8 540,159.4 540.4,159.8 540.8,160 541.2,160.1 541.5,160 541.9,159.7 542.3,159.4 542.7,158.9 543.1,158.4 543.4,157.8 543.8,157.2 544.2,156.6 544.6,156 545,155.4 545.3,154.9 545.7,154.5 546.1,154.1 546.5,153.9 546.9,153.7 547.3,153.7 547.6,153.7 548,153.8 548.4,153.9 548.8,154.1 549.2,154.3 549.5,154.5 549.9,154.8 550.3,155.1 550.7,155.5 551.4,156.3 552.2,157.2 553,158.1 553.7,159.2 554.5,160.2 555.3,161.3 556,162.4 556.8,163.4 557.5,164.4 558.3,165.4 559.1,166.2 559.8,167 560.6,167.7 561.3,168.4 562.1,168.9 562.9,169.4 563.6,169.8 564.4,170.2 565.2,170.5 565.9,170.7 566.7,170.9 567.4,171.1 568.2,171.2 569,171.3 569.7,171.4 570.5,171.4 571.3,171.5 572,171.5 572.8,171.5 573.5,171.6 574.3,171.6 575.1,171.6 575.8,171.6 576.6,171.6 577.4,171.6 578.1,171.6 578.9,171.6 579.6,171.6 580.4,171.6 581.2,171.6 581.9,171.6 582.7,171.6 583.4,171.6 584.2,171.6 585,171.6 585.7,171.6 586.5,171.6 587.3,171.6 588,171.6 588.8,171.6 589.5,171.6 590.3,171.6 591.1,171.6 591.8,171.6 592.6,171.6 672.6,171.6" stroke="#b552e4" stroke-width="0.85" fill="none"/>
<path d="M520.2,171.3 521,171 521.7,170.5 522.5,169.7 523.2,168.4 523.6,167.6 524,166.5 524.4,165.2 524.8,163.7 525.2,162 525.5,159.9 525.9,157.6 526.3,155 526.7,152.1 527.1,148.8 527.4,145.1 527.8,141 528.2,136.4 528.6,131 529,125 529.3,118.3 529.7,111 530.1,103.4 530.5,95.8 530.9,88.9 531.2,83.4 531.6,79.8 532,78.5 532.4,79.7 532.8,82.9 533.2,87.8 533.5,93.8 533.9,100.4 534.3,107 534.7,113.2 535.1,118.7 535.4,123.6 535.8,127.8 536.2,131.5 536.6,134.7 537,137.7 537.3,140.4 537.7,142.9 538.1,145.2 538.5,147.3 538.9,149.2 539.2,151 539.6,152.5 540,153.9 540.4,155 540.8,155.9 541.2,156.7 541.5,157.2 541.9,157.6 542.3,157.8 542.7,157.8 543.1,157.8 543.4,157.7 543.8,157.4 544.2,157.2 544.6,156.9 545,156.6 545.3,156.3 545.7,156.1 546.1,155.9 546.5,155.8 546.9,155.8 547.3,155.8 547.6,155.9 548,156 548.4,156.1 548.8,156.3 549.2,156.5 549.5,156.7 549.9,157 550.3,157.3 550.7,157.6 551.4,158.3 552.2,159 553,159.9 553.7,160.8 554.5,161.7 555.3,162.7 556,163.6 556.8,164.5 557.5,165.4 558.3,166.2 559.1,166.9 559.8,167.6 560.6,168.2 561.3,168.8 562.1,169.3 562.9,169.7 563.6,170.1 564.4,170.4 565.2,170.6 565.9,170.8 566.7,171 567.4,171.1 568.2,171.2 569,171.3 569.7,171.4 570.5,171.5 571.3,171.5 572,171.5 572.8,171.5 573.5,171.6 574.3,171.6 575.1,171.6 575.8,171.6 576.6,171.6 577.4,171.6 578.1,171.6 578.9,171.6 579.6,171.6 580.4,171.6 581.2,171.6 581.9,171.6 582.7,171.6 583.4,171.6 584.2,171.6 585,171.6 585.7,171.6 586.5,171.6 587.3,171.6 588,171.6 588.8,171.6 589.5,171.6 590.3,171.6 591.1,171.6 591.8,171.6 592.6,171.6 672.6,171.6" stroke="#b552e4" stroke-width="0.85" fill="none"/>
<path d="M520.2,171.5 521,171.5 521.7,171.4 522.5,171.2 523.2,170.8 523.6,170.5 524,170.1 524.4,169.7 524.8,169.1 525.2,168.4 525.5,167.5 525.9,166.5 526.3,165.2 526.7,163.8 527.1,162.1 527.4,160.1 527.8,157.9 528.2,155.4 528.6,152.6 529,149.4 529.3,145.9 529.7,141.9 530.1,137.4 530.5,132.3 530.9,126.5 531.2,120.1 531.6,113.2 532,106.2 532.4,99.5 532.8,93.6 533.2,89.1 533.5,86.6 533.9,86.3 534.3,88.1 534.7,91.6 535.1,96.4 535.4,102.1 535.8,107.9 536.2,113.6 536.6,118.7 537,123.3 537.3,127.2 537.7,130.5 538.1,133.4 538.5,136 538.9,138.3 539.2,140.4 539.6,142.3 540,144.2 540.4,145.9 540.8,147.4 541.2,148.8 541.5,150.1 541.9,151.2 542.3,152.2 542.7,153 543.1,153.7 543.4,154.3 543.8,154.7 544.2,155.1 544.6,155.4 545,155.7 545.3,155.9 545.7,156.1 546.1,156.3 546.5,156.5 546.9,156.8 547.3,157 547.6,157.3 548,157.6 548.4,157.8 548.8,158.1 549.2,158.4 549.5,158.6 549.9,158.9 550.3,159.2 550.7,159.5 551.4,160.2 552.2,160.9 553,161.6 553.7,162.4 554.5,163.2 555.3,164 556,164.8 556.8,165.6 557.5,166.3 558.3,167 559.1,167.6 559.8,168.2 560.6,168.8 561.3,169.2 562.1,169.6 562.9,170 563.6,170.3 564.4,170.6 565.2,170.8 565.9,170.9 566.7,171.1 567.4,171.2 568.2,171.3 569,171.4 569.7,171.4 570.5,171.5 571.3,171.5 572,171.5 572.8,171.6 573.5,171.6 574.3,171.6 575.1,171.6 575.8,171.6 576.6,171.6 577.4,171.6 578.1,171.6 578.9,171.6 579.6,171.6 580.4,171.6 581.2,171.6 581.9,171.6 582.7,171.6 583.4,171.6 584.2,171.6 585,171.6 585.7,171.6 586.5,171.6 587.3,171.6 588,171.6 588.8,171.6 589.5,171.6 590.3,171.6 591.1,171.6 591.8,171.6 592.6,171.6 672.6,171.6" stroke="#b552e4" stroke-width="0.85" fill="none"/>
<path d="M520.2,171.4 521,171.2 521.7,170.9 522.5,170.4 523.2,169.5 523.6,168.8 524,168.1 524.4,167.1 524.8,166 525.2,164.7 525.5,163.2 525.9,161.4 526.3,159.4 526.7,157.1 527.1,154.5 527.4,151.7 527.8,148.5 528.2,144.8 528.6,140.8 529,136.1 529.3,130.9 529.7,125 530.1,118.6 530.5,111.9 530.9,105.3 531.2,99.3 531.6,94.4 532,91.3 532.4,90.2 532.8,91.1 533.2,93.8 533.5,97.9 533.9,102.9 534.3,108.4 534.7,113.7 535.1,118.7 535.4,123.1 535.8,126.9 536.2,130.2 536.6,133 537,135.4 537.3,137.7 537.7,139.7 538.1,141.7 538.5,143.5 538.9,145.2 539.2,146.9 539.6,148.4 540,149.9 540.4,151.2 540.8,152.4 541.2,153.5 541.5,154.5 541.9,155.3 542.3,156 542.7,156.6 543.1,157.1 543.4,157.5 543.8,157.8 544.2,158.1 544.6,158.3 545,158.5 545.3,158.6 545.7,158.8 546.1,158.9 546.5,159.1 546.9,159.3 547.3,159.5 547.6,159.7 548,160 548.4,160.2 548.8,160.4 549.2,160.6 549.5,160.9 549.9,161.1 550.3,161.3 550.7,161.6 551.4,162.2 552.2,162.7 553,163.4 553.7,164 554.5,164.7 555.3,165.3 556,166 556.8,166.6 557.5,167.2 558.3,167.8 559.1,168.3 559.8,168.8 560.6,169.3 561.3,169.6 562.1,170 562.9,170.3 563.6,170.5 564.4,170.7 565.2,170.9 565.9,171.1 566.7,171.2 567.4,171.3 568.2,171.4 569,171.4 569.7,171.5 570.5,171.5 571.3,171.5 572,171.5 572.8,171.6 573.5,171.6 574.3,171.6 575.1,171.6 575.8,171.6 576.6,171.6 577.4,171.6 578.1,171.6 578.9,171.6 579.6,171.6 580.4,171.6 581.2,171.6 581.9,171.6 582.7,171.6 583.4,171.6 584.2,171.6 585,171.6 585.7,171.6 586.5,171.6 587.3,171.6 588,171.6 588.8,171.6 589.5,171.6 590.3,171.6 591.1,171.6 591.8,171.6 592.6,171.6 672.6,171.6" stroke="#b552e4" stroke-width="0.85" fill="none"/>
<path d="M520.2,171.6 521,171.5 521.7,171.5 522.5,171.3 523.2,171.1 523.6,170.9 524,170.6 524.4,170.3 524.8,169.9 525.2,169.3 525.5,168.7 525.9,167.9 526.3,166.9 526.7,165.8 527.1,164.5 527.4,162.9 527.8,161.1 528.2,159.1 528.6,156.8 529,154.3 529.3,151.4 529.7,148.2 530.1,144.6 530.5,140.5 530.9,135.9 531.2,130.6 531.6,124.8 532,118.6 532.4,112.2 532.8,106 533.2,100.7 533.5,96.6 533.9,94.4 534.3,94.1 534.7,95.6 535.1,98.7 535.4,102.9 535.8,107.8 536.2,112.9 536.6,117.7 537,122.1 537.3,125.9 537.7,129.1 538.1,131.8 538.5,134.1 538.9,136.1 539.2,137.9 539.6,139.6 540,141.3 540.4,142.8 540.8,144.3 541.2,145.7 541.5,147.1 541.9,148.4 542.3,149.6 542.7,150.7 543.1,151.8 543.4,152.8 543.8,153.7 544.2,154.5 544.6,155.2 545,156 545.3,156.6 545.7,157.2 546.1,157.8 546.5,158.4 546.9,158.9 547.3,159.5 547.6,160 548,160.5 548.4,160.9 548.8,161.3 549.2,161.7 549.5,162.1 549.9,162.4 550.3,162.8 550.7,163.1 551.4,163.7 552.2,164.3 553,164.9 553.7,165.5 554.5,166.1 555.3,166.6 556,167.2 556.8,167.7 557.5,168.2 558.3,168.6 559.1,169 559.8,169.4 560.6,169.8 561.3,170.1 562.1,170.3 562.9,170.6 563.6,170.8 564.4,170.9 565.2,171.1 565.9,171.2 566.7,171.3 567.4,171.3 568.2,171.4 569,171.5 569.7,171.5 570.5,171.5 571.3,171.5 572,171.6 572.8,171.6 573.5,171.6 574.3,171.6 575.1,171.6 575.8,171.6 576.6,171.6 577.4,171.6 578.1,171.6 578.9,171.6 579.6,171.6 580.4,171.6 581.2,171.6 581.9,171.6 582.7,171.6 583.4,171.6 584.2,171.6 585,171.6 585.7,171.6 586.5,171.6 587.3,171.6 588,171.6 588.8,171.6 589.5,171.6 590.3,171.6 591.1,171.6 591.8,171.6 592.6,171.6 672.6,171.6" stroke="#b552e4" stroke-width="0.85" fill="none"/>
<path d="M520.2,171.3 521,171 521.7,170.5 522.5,169.7 523.2,168.4 523.6,167.6 524,166.6 524.4,165.4 524.8,164 525.2,162.4 525.5,160.5 525.9,158.5 526.3,156.2 526.7,153.6 527.1,150.7 527.4,147.4 527.8,143.7 528.2,139.5 528.6,134.7 529,129.4 529.3,123.6 529.7,117.6 530.1,111.6 530.5,106.2 530.9,101.8 531.2,99 531.6,98 532,98.8 532.4,101.2 532.8,104.8 533.2,109.2 533.5,114 533.9,118.7 534.3,123 534.7,126.8 535.1,130.1 535.4,132.8 535.8,135.2 536.2,137.2 536.6,139.1 537,140.8 537.3,142.5 537.7,144.1 538.1,145.6 538.5,147.1 538.9,148.6 539.2,150 539.6,151.4 540,152.7 540.4,153.9 540.8,155 541.2,156 541.5,157 541.9,157.8 542.3,158.6 542.7,159.3 543.1,159.9 543.4,160.5 543.8,160.9 544.2,161.4 544.6,161.8 545,162.1 545.3,162.4 545.7,162.7 546.1,163 546.5,163.2 546.9,163.5 547.3,163.7 547.6,164 548,164.2 548.4,164.5 548.8,164.7 549.2,164.9 549.5,165.1 549.9,165.3 550.3,165.5 550.7,165.7 551.4,166 552.2,166.4 553,166.8 553.7,167.2 554.5,167.6 555.3,168 556,168.4 556.8,168.8 557.5,169.1 558.3,169.4 559.1,169.7 559.8,170 560.6,170.3 561.3,170.5 562.1,170.7 562.9,170.8 563.6,171 564.4,171.1 565.2,171.2 565.9,171.3 566.7,171.4 567.4,171.4 568.2,171.5 569,171.5 569.7,171.5 570.5,171.5 571.3,171.6 572,171.6 572.8,171.6 573.5,171.6 574.3,171.6 575.1,171.6 575.8,171.6 576.6,171.6 577.4,171.6 578.1,171.6 578.9,171.6 579.6,171.6 580.4,171.6 581.2,171.6 581.9,171.6 582.7,171.6 583.4,171.6 584.2,171.6 585,171.6 585.7,171.6 586.5,171.6 587.3,171.6 588,171.6 588.8,171.6 589.5,171.6 590.3,171.6 591.1,171.6 591.8,171.6 592.6,171.6 672.6,171.6" stroke="#b552e4" stroke-width="0.85" fill="none"/>
<path d="M520.2,171.5 521,171.5 521.7,171.4 522.5,171.2 523.2,170.8 523.6,170.5 524,170.2 524.4,169.7 524.8,169.2 525.2,168.5 525.5,167.7 525.9,166.7 526.3,165.6 526.7,164.2 527.1,162.7 527.4,160.9 527.8,158.9 528.2,156.6 528.6,154.1 529,151.3 529.3,148.2 529.7,144.6 530.1,140.5 530.5,135.9 530.9,130.7 531.2,125.1 531.6,119.2 532,113.5 532.4,108.2 532.8,103.9 533.2,101.1 533.5,100.1 533.9,100.9 534.3,103.3 534.7,107 535.1,111.5 535.4,116.3 535.8,121.1 536.2,125.6 536.6,129.6 537,133 537.3,135.9 537.7,138.4 538.1,140.6 538.5,142.6 538.9,144.3 539.2,145.9 539.6,147.4 540,148.7 540.4,149.9 540.8,151 541.2,152 541.5,152.8 541.9,153.5 542.3,154 542.7,154.5 543.1,154.8 543.4,155 543.8,155.2 544.2,155.3 544.6,155.3 545,155.4 545.3,155.4 545.7,155.4 546.1,155.4 546.5,155.5 546.9,155.7 547.3,155.8 547.6,156.1 548,156.3 548.4,156.5 548.8,156.7 549.2,157 549.5,157.3 549.9,157.5 550.3,157.8 550.7,158.2 551.4,158.9 552.2,159.6 553,160.5 553.7,161.3 554.5,162.2 555.3,163.1 556,164 556.8,164.9 557.5,165.7 558.3,166.5 559.1,167.2 559.8,167.8 560.6,168.4 561.3,168.9 562.1,169.4 562.9,169.8 563.6,170.1 564.4,170.4 565.2,170.7 565.9,170.9 566.7,171 567.4,171.2 568.2,171.3 569,171.3 569.7,171.4 570.5,171.5 571.3,171.5 572,171.5 572.8,171.5 573.5,171.6 574.3,171.6 575.1,171.6 575.8,171.6 576.6,171.6 577.4,171.6 578.1,171.6 578.9,171.6 579.6,171.6 580.4,171.6 581.2,171.6 581.9,171.6 582.7,171.6 583.4,171.6 584.2,171.6 585,171.6 585.7,171.6 586.5,171.6 587.3,171.6 588,171.6 588.8,171.6 589.5,171.6 590.3,171.6 591.1,171.6 591.8,171.6 592.6,171.6 672.6,171.6" stroke="#b552e4" stroke-width="0.85" fill="none"/>
<path d="M520.2,171.5 521,171.4 521.7,171.2 522.5,170.8 523.2,170.2 523.6,169.8 524,169.3 524.4,168.6 524.8,167.9 525.2,166.9 525.5,165.8 525.9,164.5 526.3,163.1 526.7,161.4 527.1,159.4 527.4,157.3 527.8,154.9 528.2,152.2 528.6,149.2 529,145.8 529.3,141.9 529.7,137.5 530.1,132.5 530.5,127.2 530.9,121.6 531.2,116 531.6,111 532,106.9 532.4,104.3 532.8,103.4 533.2,104.2 533.5,106.4 533.9,109.9 534.3,114.2 534.7,118.8 535.1,123.4 535.4,127.7 535.8,131.4 536.2,134.7 536.6,137.6 537,140 537.3,142.2 537.7,144.2 538.1,146.1 538.5,147.9 538.9,149.5 539.2,151.2 539.6,152.7 540,154.2 540.4,155.6 540.8,156.9 541.2,158.1 541.5,159.2 541.9,160.2 542.3,161.1 542.7,162 543.1,162.7 543.4,163.3 543.8,163.9 544.2,164.4 544.6,164.8 545,165.2 545.3,165.5 545.7,165.8 546.1,166 546.5,166.3 546.9,166.5 547.3,166.7 547.6,166.9 548,167.1 548.4,167.2 548.8,167.3 549.2,167.5 549.5,167.6 549.9,167.7 550.3,167.8 550.7,168 551.4,168.2 552.2,168.4 553,168.6 553.7,168.9 554.5,169.1 555.3,169.4 556,169.6 556.8,169.8 557.5,170 558.3,170.2 559.1,170.4 559.8,170.6 560.6,170.8 561.3,170.9 562.1,171 562.9,171.1 563.6,171.2 564.4,171.3 565.2,171.4 565.9,171.4 566.7,171.4 567.4,171.5 568.2,171.5 569,171.5 569.7,171.6 570.5,171.6 571.3,171.6 572,171.6 572.8,171.6 573.5,171.6 574.3,171.6 575.1,171.6 575.8,171.6 576.6,171.6 577.4,171.6 578.1,171.6 578.9,171.6 579.6,171.6 580.4,171.6 581.2,171.6 581.9,171.6 582.7,171.6 583.4,171.6 584.2,171.6 585,171.6 585.7,171.6 586.5,171.6 587.3,171.6 588,171.6 588.8,171.6 589.5,171.6 590.3,171.6 591.1,171.6 591.8,171.6 592.6,171.6 672.6,171.6" stroke="#b552e4" stroke-width="0.85" fill="none"/>
<path d="M520.2,171.5 521,171.4 521.7,171.2 522.5,170.9 523.2,170.3 523.6,169.9 524,169.3 524.4,168.6 524.8,167.8 525.2,166.8 525.5,165.6 525.9,164.1 526.3,162.4 526.7,160.4 527.1,158.2 527.4,155.6 527.8,152.7 528.2,149.5 528.6,145.8 529,141.8 529.3,137.2 529.7,132 530.1,126.1 530.5,119.4 530.9,112.1 531.2,104.2 531.6,96.3 532,88.9 532.4,82.5 532.8,77.9 533.2,75.6 533.5,75.7 533.9,78.3 534.3,82.8 534.7,88.8 535.1,95.6 535.4,102.6 535.8,109.3 536.2,115.5 536.6,121 537,125.7 537.3,129.9 537.7,133.5 538.1,136.7 538.5,139.6 538.9,142.2 539.2,144.5 539.6,146.6 540,148.5 540.4,150.1 540.8,151.5 541.2,152.7 541.5,153.6 541.9,154.3 542.3,154.8 542.7,155.2 543.1,155.3 543.4,155.4 543.8,155.3 544.2,155.2 544.6,155 545,154.8 545.3,154.6 545.7,154.4 546.1,154.2 546.5,154.1 546.9,154.1 547.3,154.2 547.6,154.3 548,154.4 548.4,154.6 548.8,154.8 549.2,155 549.5,155.2 549.9,155.5 550.3,155.8 550.7,156.2 551.4,156.9 552.2,157.8 553,158.7 553.7,159.7 554.5,160.7 555.3,161.8 556,162.8 556.8,163.8 557.5,164.7 558.3,165.6 559.1,166.5 559.8,167.2 560.6,167.9 561.3,168.5 562.1,169.1 562.9,169.5 563.6,169.9 564.4,170.2 565.2,170.5 565.9,170.8 566.7,170.9 567.4,171.1 568.2,171.2 569,171.3 569.7,171.4 570.5,171.4 571.3,171.5 572,171.5 572.8,171.5 573.5,171.6 574.3,171.6 575.1,171.6 575.8,171.6 576.6,171.6 577.4,171.6 578.1,171.6 578.9,171.6 579.6,171.6 580.4,171.6 581.2,171.6 581.9,171.6 582.7,171.6 583.4,171.6 584.2,171.6 585,171.6 585.7,171.6 586.5,171.6 587.3,171.6 588,171.6 588.8,171.6 589.5,171.6 590.3,171.6 591.1,171.6 591.8,171.6 592.6,171.6 672.6,171.6" stroke="#b552e4" stroke-width="0.85" fill="none"/>
<text x="168.85" y="232.9" text-anchor="middle" font-size="12.5">T2 distributions</text>
<text x="168.85" y="247.4" text-anchor="middle" font-size="12.4">All groups</text>
<rect x="71.6" y="272.4" width="173.6" height="129" fill="none" stroke="#7c7c7c" stroke-width="1"/>
<path d="M69.4,395.2H71.6M69.4,380.8H71.6M69.4,366.4H71.6M69.4,352H71.6M69.4,337.6H71.6M69.4,323.2H71.6M69.4,308.8H71.6M69.4,294.4H71.6M69.4,280H71.6M78.7,401.4V403.6M98.5,401.4V403.6M118.2,401.4V403.6M137.9,401.4V403.6M157.7,401.4V403.6M177.4,401.4V403.6M197.2,401.4V403.6M216.9,401.4V403.6M236.7,401.4V403.6" stroke="#7c7c7c" stroke-width="0.8" fill="none"/>
<text x="68.9" y="283.8" text-anchor="end" font-size="10">0.16</text>
<text x="68.9" y="341.1" text-anchor="end" font-size="10">0.08</text>
<text x="67.9" y="398.4" text-anchor="end" font-size="10">0</text>
<text x="78.7" y="411.7" text-anchor="middle" font-size="10">0</text>
<text x="156.2" y="411.7" text-anchor="middle" font-size="10">100</text>
<text x="235.1" y="411.7" text-anchor="middle" font-size="10">200</text>
<text x="138.5" y="426.6" font-size="10">TE (ms)</text>
<text transform="translate(37.4,335.5) rotate(-90)" text-anchor="middle" font-size="10" dy="3.6">p(T2)</text>
<path d="M78.7,395.2 79.5,395.2 80.3,395.2 81.1,395.2 81.9,395.2 82.3,395.1 82.7,395.1 83,395 83.4,395 83.8,394.9 84.2,394.7 84.6,394.5 85,394.2 85.4,393.8 85.8,393.2 86.2,392.5 86.6,391.6 87,390.5 87.4,389.1 87.8,387.4 88.2,385.3 88.6,382.7 89,379.8 89.4,376.3 89.8,372.3 90.2,367.6 90.6,362.3 90.9,356.1 91.3,349 91.7,340.9 92.1,331.8 92.5,321.9 92.9,311.6 93.3,301.5 93.7,292.4 94.1,285 94.5,280.2 94.9,278.6 95.3,280.3 95.7,285.3 96.1,293 96.5,302.5 96.9,313.1 97.3,323.8 97.7,334 98.1,343.4 98.5,351.7 98.8,358.7 99.2,364.7 99.6,369.6 100,373.6 100.4,376.7 100.8,379.1 101.2,380.9 101.6,382.2 102,383 102.4,383.5 102.8,383.9 103.2,384.1 103.6,384.4 104,384.7 104.4,385.1 104.8,385.3 105.2,385.5 105.6,385.7 106,385.8 106.4,385.9 106.7,386 107.1,386.2 107.5,386.3 107.9,386.4 108.3,386.5 108.7,386.6 109.1,386.7 109.5,386.9 109.9,387 110.3,387.2 111.1,387.5 111.9,387.8 112.7,388.2 113.5,388.6 114.2,388.9 115,389.3 115.8,389.7 116.6,390.1 117.4,390.5 118.2,390.9 119,391.2 119.8,391.6 120.6,391.9 121.4,392.2 122.2,392.5 122.9,392.8 123.7,393.1 124.5,393.3 125.3,393.5 126.1,393.7 126.9,393.9 127.7,394.1 128.5,394.2 129.3,394.4 130.1,394.5 130.8,394.6 131.6,394.7 132.4,394.8 133.2,394.8 134,394.9 134.8,394.9 135.6,395 136.4,395 137.2,395.1 137.9,395.1 138.7,395.1 139.5,395.1 140.3,395.1 141.1,395.2 141.9,395.2 142.7,395.2 143.5,395.2 144.3,395.2 145.1,395.2 145.9,395.2 146.6,395.2 147.4,395.2 148.2,395.2 149,395.2 149.8,395.2 150.6,395.2 151.4,395.2 152.2,395.2 153,395.2 153.8,395.2 236.7,395.2" stroke="#5a5a5a" stroke-width="0.55" fill="none"/>
<path d="M78.7,395.2 79.5,395.2 80.3,395.2 81.1,395.2 81.9,395.2 82.3,395.2 82.7,395.2 83,395.1 83.4,395.1 83.8,395 84.2,395 84.6,394.9 85,394.7 85.4,394.5 85.8,394.2 86.2,393.8 86.6,393.3 87,392.6 87.4,391.8 87.8,390.7 88.2,389.3 88.6,387.7 89,385.6 89.4,383.2 89.8,380.3 90.2,377 90.6,373.1 90.9,368.7 91.3,363.5 91.7,357.5 92.1,350.7 92.5,342.9 92.9,334.1 93.3,324.6 93.7,314.7 94.1,305 94.5,296.2 94.9,289.1 95.3,284.5 95.7,282.9 96.1,284.5 96.5,289.3 96.9,296.6 97.3,305.8 97.7,315.8 98.1,326 98.5,335.7 98.8,344.5 99.2,352.1 99.6,358.5 100,363.8 100.4,368 100.8,371.3 101.2,373.8 101.6,375.6 102,376.9 102.4,377.7 102.8,378.4 103.2,378.9 103.6,379.5 104,380.1 104.4,380.7 104.8,381.2 105.2,381.6 105.6,381.9 106,382.1 106.4,382.3 106.7,382.5 107.1,382.6 107.5,382.8 107.9,383 108.3,383.1 108.7,383.3 109.1,383.5 109.5,383.7 109.9,383.9 110.3,384.1 111.1,384.5 111.9,385 112.7,385.5 113.5,386 114.2,386.5 115,387.1 115.8,387.6 116.6,388.1 117.4,388.7 118.2,389.2 119,389.7 119.8,390.2 120.6,390.7 121.4,391.1 122.2,391.5 122.9,391.9 123.7,392.3 124.5,392.6 125.3,392.9 126.1,393.2 126.9,393.4 127.7,393.7 128.5,393.9 129.3,394.1 130.1,394.2 130.8,394.4 131.6,394.5 132.4,394.6 133.2,394.7 134,394.8 134.8,394.9 135.6,394.9 136.4,395 137.2,395 137.9,395 138.7,395.1 139.5,395.1 140.3,395.1 141.1,395.1 141.9,395.1 142.7,395.2 143.5,395.2 144.3,395.2 145.1,395.2 145.9,395.2 146.6,395.2 147.4,395.2 148.2,395.2 149,395.2 149.8,395.2 150.6,395.2 151.4,395.2 152.2,395.2 153,395.2 153.8,395.2 236.7,395.2" stroke="#5a5a5a" stroke-width="0.55" fill="none"/>
<path d="M78.7,395.2 79.5,395.2 80.3,395.2 81.1,395.1 81.9,395 82.3,394.9 82.7,394.8 83,394.6 83.4,394.4 83.8,394.1 84.2,393.8 84.6,393.3 85,392.8 85.4,392.1 85.8,391.2 86.2,390.1 86.6,388.9 87,387.4 87.4,385.7 87.8,383.7 88.2,381.4 88.6,378.8 89,375.9 89.4,372.6 89.8,369 90.2,364.9 90.6,360.3 90.9,355 91.3,349.1 91.7,342.4 92.1,335.2 92.5,327.6 92.9,320.1 93.3,313.3 93.7,307.8 94.1,304.3 94.5,303 94.9,304.4 95.3,308.3 95.7,314.4 96.1,322 96.5,330.3 96.9,338.7 97.3,346.8 97.7,354.1 98.1,360.6 98.5,366.1 98.8,370.6 99.2,374.2 99.6,377 100,379.1 100.4,380.4 100.8,381.2 101.2,381.4 101.6,381.2 102,380.7 102.4,380.1 102.8,379.5 103.2,379 103.6,378.7 104,378.7 104.4,379 104.8,379.1 105.2,379.3 105.6,379.4 106,379.5 106.4,379.6 106.7,379.8 107.1,379.9 107.5,380.1 107.9,380.3 108.3,380.5 108.7,380.7 109.1,380.9 109.5,381.1 109.9,381.3 110.3,381.6 111.1,382.1 111.9,382.7 112.7,383.3 113.5,384 114.2,384.6 115,385.3 115.8,385.9 116.6,386.6 117.4,387.2 118.2,387.9 119,388.5 119.8,389.1 120.6,389.7 121.4,390.2 122.2,390.7 122.9,391.2 123.7,391.6 124.5,392 125.3,392.4 126.1,392.7 126.9,393.1 127.7,393.3 128.5,393.6 129.3,393.8 130.1,394 130.8,394.2 131.6,394.3 132.4,394.5 133.2,394.6 134,394.7 134.8,394.8 135.6,394.8 136.4,394.9 137.2,395 137.9,395 138.7,395 139.5,395.1 140.3,395.1 141.1,395.1 141.9,395.1 142.7,395.1 143.5,395.2 144.3,395.2 145.1,395.2 145.9,395.2 146.6,395.2 147.4,395.2 148.2,395.2 149,395.2 149.8,395.2 150.6,395.2 151.4,395.2 152.2,395.2 153,395.2 153.8,395.2 236.7,395.2" stroke="#5a5a5a" stroke-width="0.55" fill="none"/>
<path d="M78.7,395.2 79.5,395.2 80.3,395.2 81.1,395.2 81.9,395.2 82.3,395.2 82.7,395.2 83,395.2 83.4,395.2 83.8,395.1 84.2,395.1 84.6,395 85,395 85.4,394.9 85.8,394.7 86.2,394.5 86.6,394.2 87,393.9 87.4,393.4 87.8,392.8 88.2,392.1 88.6,391.1 89,390 89.4,388.6 89.8,386.9 90.2,384.9 90.6,382.6 90.9,379.9 91.3,376.8 91.7,373.2 92.1,369.1 92.5,364.4 92.9,359 93.3,352.9 93.7,346.3 94.1,339.5 94.5,332.7 94.9,326.6 95.3,321.7 95.7,318.5 96.1,317.3 96.5,318.4 96.9,321.6 97.3,326.5 97.7,332.6 98.1,339.2 98.5,345.8 98.8,351.8 99.2,357 99.6,361.1 100,364.1 100.4,366.1 100.8,367.2 101.2,367.4 101.6,367 102,366.2 102.4,365.2 102.8,364.3 103.2,363.6 103.6,363.3 104,363.6 104.4,364.2 104.8,364.7 105.2,365.1 105.6,365.4 106,365.8 106.4,366.1 106.7,366.4 107.1,366.7 107.5,367 107.9,367.3 108.3,367.7 108.7,368.1 109.1,368.5 109.5,368.9 109.9,369.4 110.3,369.8 111.1,370.9 111.9,371.9 112.7,373.1 113.5,374.2 114.2,375.4 115,376.7 115.8,377.9 116.6,379.1 117.4,380.4 118.2,381.5 119,382.7 119.8,383.8 120.6,384.9 121.4,385.9 122.2,386.8 122.9,387.7 123.7,388.5 124.5,389.3 125.3,390 126.1,390.6 126.9,391.2 127.7,391.7 128.5,392.2 129.3,392.6 130.1,393 130.8,393.3 131.6,393.6 132.4,393.8 133.2,394.1 134,394.2 134.8,394.4 135.6,394.5 136.4,394.7 137.2,394.8 137.9,394.8 138.7,394.9 139.5,395 140.3,395 141.1,395 141.9,395.1 142.7,395.1 143.5,395.1 144.3,395.1 145.1,395.2 145.9,395.2 146.6,395.2 147.4,395.2 148.2,395.2 149,395.2 149.8,395.2 150.6,395.2 151.4,395.2 152.2,395.2 153,395.2 153.8,395.2 236.7,395.2" stroke="#5a5a5a" stroke-width="0.55" fill="none"/>
<path d="M78.7,395.2 79.5,395.2 80.3,395.2 81.1,395.1 81.9,395 82.3,395 82.7,394.9 83,394.7 83.4,394.6 83.8,394.3 84.2,394 84.6,393.7 85,393.2 85.4,392.6 85.8,391.9 86.2,391.1 86.6,390 87,388.8 87.4,387.4 87.8,385.7 88.2,383.8 88.6,381.7 89,379.3 89.4,376.7 89.8,373.7 90.2,370.3 90.6,366.5 90.9,362.2 91.3,357.4 91.7,351.9 92.1,346 92.5,339.7 92.9,333.6 93.3,328 93.7,323.5 94.1,320.6 94.5,319.6 94.9,320.7 95.3,323.9 95.7,328.9 96.1,335 96.5,341.8 96.9,348.7 97.3,355.1 97.7,360.9 98.1,365.9 98.5,369.9 98.8,373 99.2,375.2 99.6,376.4 100,376.8 100.4,376.3 100.8,375.1 101.2,373.3 101.6,371.1 102,368.6 102.4,366.1 102.8,363.9 103.2,362.2 103.6,361.1 104,360.9 104.4,361 104.8,361.2 105.2,361.4 105.6,361.6 106,361.8 106.4,362 106.7,362.3 107.1,362.6 107.5,362.9 107.9,363.3 108.3,363.7 108.7,364.1 109.1,364.6 109.5,365.1 109.9,365.6 110.3,366.1 111.1,367.3 111.9,368.5 112.7,369.8 113.5,371.2 114.2,372.6 115,374 115.8,375.4 116.6,376.8 117.4,378.2 118.2,379.5 119,380.9 119.8,382.1 120.6,383.3 121.4,384.5 122.2,385.6 122.9,386.6 123.7,387.5 124.5,388.4 125.3,389.2 126.1,390 126.9,390.6 127.7,391.2 128.5,391.8 129.3,392.2 130.1,392.7 130.8,393 131.6,393.4 132.4,393.6 133.2,393.9 134,394.1 134.8,394.3 135.6,394.4 136.4,394.6 137.2,394.7 137.9,394.8 138.7,394.9 139.5,394.9 140.3,395 141.1,395 141.9,395.1 142.7,395.1 143.5,395.1 144.3,395.1 145.1,395.1 145.9,395.2 146.6,395.2 147.4,395.2 148.2,395.2 149,395.2 149.8,395.2 150.6,395.2 151.4,395.2 152.2,395.2 153,395.2 153.8,395.2 236.7,395.2" stroke="#5a5a5a" stroke-width="0.55" fill="none"/>
<path d="M78.7,395.2 79.5,395.1 80.3,395 81.1,394.7 81.9,394.2 82.3,393.8 82.7,393.3 83,392.6 83.4,391.7 83.8,390.6 84.2,389.2 84.6,387.5 85,385.5 85.4,383.1 85.8,380.2 86.2,376.8 86.6,372.9 87,368.4 87.4,363.1 87.8,357 88.2,350 88.6,342.2 89,333.8 89.4,324.9 89.8,316.3 90.2,308.4 90.6,302.1 90.9,298 91.3,296.6 91.7,298.2 92.1,302.9 92.5,310.2 92.9,319.3 93.3,329.3 93.7,339.5 94.1,349.2 94.5,358 94.9,365.7 95.3,372.1 95.7,377.5 96.1,381.8 96.5,385.2 96.9,387.8 97.3,389.9 97.7,391.4 98.1,392.5 98.5,393.3 98.8,393.9 99.2,394.2 99.6,394.4 100,394.5 100.4,394.5 100.8,394.5 101.2,394.4 101.6,394.3 102,394.2 102.4,394 102.8,393.9 103.2,393.8 103.6,393.8 104,393.8 104.4,393.8 104.8,393.8 105.2,393.8 105.6,393.8 106,393.8 106.4,393.8 106.7,393.8 107.1,393.8 107.5,393.8 107.9,393.8 108.3,393.9 108.7,393.9 109.1,393.9 109.5,393.9 109.9,393.9 110.3,394 111.1,394 111.9,394.1 112.7,394.1 113.5,394.2 114.2,394.2 115,394.3 115.8,394.4 116.6,394.4 117.4,394.5 118.2,394.5 119,394.6 119.8,394.6 120.6,394.7 121.4,394.7 122.2,394.8 122.9,394.8 123.7,394.9 124.5,394.9 125.3,394.9 126.1,395 126.9,395 127.7,395 128.5,395.1 129.3,395.1 130.1,395.1 130.8,395.1 131.6,395.1 132.4,395.1 133.2,395.1 134,395.2 134.8,395.2 135.6,395.2 136.4,395.2 137.2,395.2 137.9,395.2 138.7,395.2 139.5,395.2 140.3,395.2 141.1,395.2 141.9,395.2 142.7,395.2 143.5,395.2 144.3,395.2 145.1,395.2 145.9,395.2 146.6,395.2 147.4,395.2 148.2,395.2 149,395.2 149.8,395.2 150.6,395.2 151.4,395.2 152.2,395.2 153,395.2 153.8,395.2 236.7,395.2" stroke="#5a5a5a" stroke-width="0.55" fill="none"/>
<path d="M78.7,395.2 79.5,395.2 80.3,395.2 81.1,395.1 81.9,395.1 82.3,395 82.7,394.9 83,394.7 83.4,394.6 83.8,394.3 84.2,393.9 84.6,393.5 85,392.8 85.4,392.1 85.8,391.1 86.2,389.8 86.6,388.3 87,386.5 87.4,384.3 87.8,381.9 88.2,379.1 88.6,375.9 89,372.5 89.4,368.8 89.8,365 90.2,361.1 90.6,357.2 90.9,353.5 91.3,350 91.7,346.9 92.1,344.2 92.5,342.2 92.9,340.8 93.3,340 93.7,339.8 94.1,339.8 94.5,340 94.9,340.5 95.3,341.2 95.7,342 96.1,343 96.5,344.1 96.9,345.3 97.3,346.6 97.7,347.9 98.1,349.1 98.5,350.4 98.8,351.5 99.2,352.6 99.6,353.5 100,354.3 100.4,354.9 100.8,355.4 101.2,355.8 101.6,356 102,356 102.4,355.9 102.8,355.7 103.2,355.4 103.6,354.9 104,354.4 104.4,353.9 104.8,353.3 105.2,352.8 105.6,352.2 106,351.7 106.4,351.3 106.7,350.9 107.1,350.6 107.5,350.5 107.9,350.5 108.3,350.5 108.7,350.8 109.1,351.1 109.5,351.5 109.9,352.1 110.3,352.7 111.1,354.3 111.9,356.4 112.7,358.7 113.5,361.3 114.2,364.2 115,367.1 115.8,370 116.6,373 117.4,375.8 118.2,378.5 119,380.9 119.8,383.2 120.6,385.2 121.4,387 122.2,388.6 122.9,389.9 123.7,391 124.5,391.9 125.3,392.7 126.1,393.3 126.9,393.7 127.7,394.1 128.5,394.4 129.3,394.6 130.1,394.8 130.8,394.9 131.6,395 132.4,395.1 133.2,395.1 134,395.1 134.8,395.2 135.6,395.2 136.4,395.2 137.2,395.2 137.9,395.2 138.7,395.2 139.5,395.2 140.3,395.2 141.1,395.2 141.9,395.2 142.7,395.2 143.5,395.2 144.3,395.2 145.1,395.2 145.9,395.2 146.6,395.2 147.4,395.2 148.2,395.2 149,395.2 149.8,395.2 150.6,395.2 151.4,395.2 152.2,395.2 153,395.2 153.8,395.2 236.7,395.2" stroke="#5a5a5a" stroke-width="0.55" fill="none"/>
<path d="M78.7,395.2 79.5,395.2 80.3,395.2 81.1,395.1 81.9,395 82.3,395 82.7,394.9 83,394.8 83.4,394.6 83.8,394.4 84.2,394.1 84.6,393.8 85,393.3 85.4,392.8 85.8,392.1 86.2,391.2 86.6,390.2 87,389 87.4,387.5 87.8,385.8 88.2,383.9 88.6,381.8 89,379.4 89.4,376.7 89.8,373.8 90.2,370.7 90.6,367.1 90.9,363 91.3,358 91.7,351.9 92.1,344.1 92.5,334.5 92.9,323.3 93.3,311.1 93.7,299.4 94.1,290 94.5,284.5 94.9,283.9 95.3,288.7 95.7,297.9 96.1,309.8 96.5,322.7 96.9,335 97.3,345.8 97.7,354.7 98.1,361.8 98.5,367.5 98.8,372.1 99.2,375.9 99.6,379.1 100,381.8 100.4,384.1 100.8,386 101.2,387.6 101.6,388.8 102,389.8 102.4,390.5 102.8,390.9 103.2,391.2 103.6,391.3 104,391.4 104.4,391.3 104.8,391.1 105.2,390.9 105.6,390.7 106,390.4 106.4,390.2 106.7,389.9 107.1,389.6 107.5,389.3 107.9,389.1 108.3,388.8 108.7,388.6 109.1,388.4 109.5,388.3 109.9,388.2 110.3,388.1 111.1,388 111.9,388 112.7,388.2 113.5,388.4 114.2,388.7 115,389 115.8,389.4 116.6,389.9 117.4,390.3 118.2,390.8 119,391.3 119.8,391.8 120.6,392.2 121.4,392.7 122.2,393.1 122.9,393.4 123.7,393.7 124.5,394 125.3,394.2 126.1,394.4 126.9,394.6 127.7,394.7 128.5,394.8 129.3,394.9 130.1,395 130.8,395 131.6,395.1 132.4,395.1 133.2,395.1 134,395.2 134.8,395.2 135.6,395.2 136.4,395.2 137.2,395.2 137.9,395.2 138.7,395.2 139.5,395.2 140.3,395.2 141.1,395.2 141.9,395.2 142.7,395.2 143.5,395.2 144.3,395.2 145.1,395.2 145.9,395.2 146.6,395.2 147.4,395.2 148.2,395.2 149,395.2 149.8,395.2 150.6,395.2 151.4,395.2 152.2,395.2 153,395.2 153.8,395.2 236.7,395.2" stroke="#80e4d4" stroke-width="0.85" fill="none"/>
<path d="M78.7,395.2 79.5,395.1 80.3,395 81.1,394.8 81.9,394.5 82.3,394.3 82.7,394 83,393.6 83.4,393.1 83.8,392.4 84.2,391.6 84.6,390.6 85,389.4 85.4,388 85.8,386.2 86.2,384.2 86.6,381.8 87,379.1 87.4,376 87.8,372.5 88.2,368.7 88.6,364.6 89,360 89.4,355.2 89.8,350.1 90.2,344.7 90.6,339.1 90.9,333.3 91.3,327.4 91.7,321.5 92.1,315.8 92.5,310.5 92.9,305.9 93.3,302.4 93.7,300.1 94.1,299.3 94.5,299.8 94.9,301.6 95.3,304.2 95.7,307.7 96.1,311.6 96.5,315.8 96.9,320.1 97.3,324.3 97.7,328.4 98.1,332.4 98.5,336.3 98.8,340.1 99.2,343.8 99.6,347.4 100,350.8 100.4,354.2 100.8,357.3 101.2,360.3 101.6,363 102,365.5 102.4,367.8 102.8,369.8 103.2,371.6 103.6,373.1 104,374.4 104.4,375.4 104.8,376.2 105.2,376.9 105.6,377.3 106,377.6 106.4,377.7 106.7,377.8 107.1,377.7 107.5,377.6 107.9,377.4 108.3,377.2 108.7,377 109.1,376.8 109.5,376.7 109.9,376.5 110.3,376.5 111.1,376.5 111.9,376.7 112.7,377.2 113.5,377.8 114.2,378.5 115,379.4 115.8,380.5 116.6,381.6 117.4,382.8 118.2,384.1 119,385.3 119.8,386.5 120.6,387.7 121.4,388.7 122.2,389.7 122.9,390.6 123.7,391.4 124.5,392.1 125.3,392.7 126.1,393.2 126.9,393.6 127.7,394 128.5,394.3 129.3,394.5 130.1,394.7 130.8,394.8 131.6,394.9 132.4,395 133.2,395.1 134,395.1 134.8,395.1 135.6,395.2 136.4,395.2 137.2,395.2 137.9,395.2 138.7,395.2 139.5,395.2 140.3,395.2 141.1,395.2 141.9,395.2 142.7,395.2 143.5,395.2 144.3,395.2 145.1,395.2 145.9,395.2 146.6,395.2 147.4,395.2 148.2,395.2 149,395.2 149.8,395.2 150.6,395.2 151.4,395.2 152.2,395.2 153,395.2 153.8,395.2 236.7,395.2" stroke="#80e4d4" stroke-width="0.85" fill="none"/>
<path d="M78.7,395.1 79.5,395.1 80.3,395 81.1,394.7 81.9,394.3 82.3,394 82.7,393.6 83,393.1 83.4,392.5 83.8,391.7 84.2,390.7 84.6,389.5 85,388.1 85.4,386.4 85.8,384.3 86.2,382 86.6,379.3 87,376.3 87.4,372.9 87.8,369.1 88.2,365 88.6,360.6 89,355.8 89.4,350.8 89.8,345.5 90.2,340 90.6,334.3 90.9,328.4 91.3,322.6 91.7,317 92.1,311.8 92.5,307.3 92.9,303.8 93.3,301.6 93.7,300.8 94.1,301.4 94.5,303.2 94.9,306.1 95.3,309.8 95.7,314 96.1,318.5 96.5,323.1 96.9,327.8 97.3,332.3 97.7,336.7 98.1,341 98.5,345.2 98.8,349.2 99.2,353.1 99.6,356.8 100,360.3 100.4,363.6 100.8,366.6 101.2,369.4 101.6,371.9 102,374.1 102.4,376.1 102.8,377.8 103.2,379.2 103.6,380.3 104,381.2 104.4,381.9 104.8,382.4 105.2,382.8 105.6,382.9 106,383 106.4,382.9 106.7,382.8 107.1,382.6 107.5,382.3 107.9,382.1 108.3,381.8 108.7,381.5 109.1,381.3 109.5,381.1 109.9,380.9 110.3,380.8 111.1,380.7 111.9,380.8 112.7,381.1 113.5,381.6 114.2,382.1 115,382.9 115.8,383.7 116.6,384.6 117.4,385.5 118.2,386.5 119,387.4 119.8,388.4 120.6,389.3 121.4,390.1 122.2,390.9 122.9,391.6 123.7,392.2 124.5,392.8 125.3,393.3 126.1,393.6 126.9,394 127.7,394.3 128.5,394.5 129.3,394.7 130.1,394.8 130.8,394.9 131.6,395 132.4,395 133.2,395.1 134,395.1 134.8,395.1 135.6,395.2 136.4,395.2 137.2,395.2 137.9,395.2 138.7,395.2 139.5,395.2 140.3,395.2 141.1,395.2 141.9,395.2 142.7,395.2 143.5,395.2 144.3,395.2 145.1,395.2 145.9,395.2 146.6,395.2 147.4,395.2 148.2,395.2 149,395.2 149.8,395.2 150.6,395.2 151.4,395.2 152.2,395.2 153,395.2 153.8,395.2 236.7,395.2" stroke="#80e4d4" stroke-width="0.85" fill="none"/>
<path d="M78.7,395.2 79.5,395.1 80.3,395.1 81.1,395 81.9,394.7 82.3,394.6 82.7,394.3 83,394 83.4,393.6 83.8,393.1 84.2,392.5 84.6,391.7 85,390.8 85.4,389.6 85.8,388.2 86.2,386.5 86.6,384.5 87,382.2 87.4,379.6 87.8,376.6 88.2,373.2 88.6,369.5 89,365.5 89.4,361.1 89.8,356.4 90.2,351.5 90.6,346.3 90.9,340.8 91.3,335.2 91.7,329.5 92.1,323.7 92.5,318.2 92.9,313.1 93.3,308.6 93.7,305.2 94.1,303 94.5,302.2 94.9,302.8 95.3,304.8 95.7,307.8 96.1,311.8 96.5,316.3 96.9,321.2 97.3,326.3 97.7,331.3 98.1,336.2 98.5,341 98.8,345.6 99.2,350.1 99.6,354.3 100,358.3 100.4,362.1 100.8,365.6 101.2,368.8 101.6,371.7 102,374.3 102.4,376.5 102.8,378.5 103.2,380.1 103.6,381.5 104,382.5 104.4,383.4 104.8,384 105.2,384.4 105.6,384.7 106,384.8 106.4,384.8 106.7,384.7 107.1,384.6 107.5,384.4 107.9,384.1 108.3,383.9 108.7,383.7 109.1,383.4 109.5,383.2 109.9,383.1 110.3,383 111.1,382.9 111.9,383 112.7,383.2 113.5,383.6 114.2,384.1 115,384.7 115.8,385.4 116.6,386.2 117.4,387 118.2,387.8 119,388.6 119.8,389.4 120.6,390.2 121.4,390.9 122.2,391.5 122.9,392.1 123.7,392.7 124.5,393.1 125.3,393.5 126.1,393.9 126.9,394.2 127.7,394.4 128.5,394.6 129.3,394.7 130.1,394.9 130.8,394.9 131.6,395 132.4,395.1 133.2,395.1 134,395.1 134.8,395.2 135.6,395.2 136.4,395.2 137.2,395.2 137.9,395.2 138.7,395.2 139.5,395.2 140.3,395.2 141.1,395.2 141.9,395.2 142.7,395.2 143.5,395.2 144.3,395.2 145.1,395.2 145.9,395.2 146.6,395.2 147.4,395.2 148.2,395.2 149,395.2 149.8,395.2 150.6,395.2 151.4,395.2 152.2,395.2 153,395.2 153.8,395.2 236.7,395.2" stroke="#80e4d4" stroke-width="0.85" fill="none"/>
<path d="M78.7,395.1 79.5,395.1 80.3,395 81.1,394.7 81.9,394.3 82.3,394 82.7,393.7 83,393.2 83.4,392.6 83.8,391.8 84.2,390.8 84.6,389.7 85,388.3 85.4,386.6 85.8,384.7 86.2,382.4 86.6,379.8 87,376.9 87.4,373.6 87.8,369.9 88.2,365.9 88.6,361.6 89,357 89.4,352.1 89.8,347 90.2,341.7 90.6,336.1 90.9,330.5 91.3,324.8 91.7,319.4 92.1,314.3 92.5,310 92.9,306.6 93.3,304.4 93.7,303.6 94.1,304.3 94.5,306.4 94.9,309.6 95.3,313.7 95.7,318.5 96.1,323.6 96.5,328.9 96.9,334.2 97.3,339.4 97.7,344.5 98.1,349.3 98.5,353.9 98.8,358.3 99.2,362.3 99.6,366.1 100,369.6 100.4,372.7 100.8,375.5 101.2,377.9 101.6,380 102,381.8 102.4,383.3 102.8,384.4 103.2,385.4 103.6,386.1 104,386.5 104.4,386.8 104.8,387 105.2,387.1 105.6,387 106,386.9 106.4,386.7 106.7,386.5 107.1,386.3 107.5,386 107.9,385.8 108.3,385.6 108.7,385.4 109.1,385.3 109.5,385.2 109.9,385.1 110.3,385.1 111.1,385.2 111.9,385.4 112.7,385.7 113.5,386.1 114.2,386.6 115,387.1 115.8,387.8 116.6,388.4 117.4,389.1 118.2,389.8 119,390.4 119.8,391.1 120.6,391.6 121.4,392.2 122.2,392.7 122.9,393.1 123.7,393.5 124.5,393.8 125.3,394.1 126.1,394.3 126.9,394.5 127.7,394.7 128.5,394.8 129.3,394.9 130.1,395 130.8,395 131.6,395.1 132.4,395.1 133.2,395.1 134,395.2 134.8,395.2 135.6,395.2 136.4,395.2 137.2,395.2 137.9,395.2 138.7,395.2 139.5,395.2 140.3,395.2 141.1,395.2 141.9,395.2 142.7,395.2 143.5,395.2 144.3,395.2 145.1,395.2 145.9,395.2 146.6,395.2 147.4,395.2 148.2,395.2 149,395.2 149.8,395.2 150.6,395.2 151.4,395.2 152.2,395.2 153,395.2 153.8,395.2 236.7,395.2" stroke="#80e4d4" stroke-width="0.85" fill="none"/>
<path d="M78.7,395.2 79.5,395.1 80.3,395 81.1,394.9 81.9,394.6 82.3,394.4 82.7,394.1 83,393.7 83.4,393.2 83.8,392.6 84.2,391.9 84.6,390.9 85,389.8 85.4,388.5 85.8,386.8 86.2,384.9 86.6,382.7 87,380.2 87.4,377.3 87.8,374.1 88.2,370.5 88.6,366.6 89,362.4 89.4,357.9 89.8,353.2 90.2,348.1 90.6,342.9 90.9,337.5 91.3,332 91.7,326.5 92.1,321.2 92.5,316.2 92.9,312 93.3,308.7 93.7,306.6 94.1,305.8 94.5,306.5 94.9,308.6 95.3,311.8 95.7,316.1 96.1,320.9 96.5,326.2 96.9,331.6 97.3,337.1 97.7,342.4 98.1,347.5 98.5,352.4 98.8,357.1 99.2,361.4 99.6,365.5 100,369.2 100.4,372.5 100.8,375.6 101.2,378.2 101.6,380.5 102,382.5 102.4,384.1 102.8,385.4 103.2,386.5 103.6,387.3 104,387.9 104.4,388.4 104.8,388.6 105.2,388.8 105.6,388.8 106,388.8 106.4,388.7 106.7,388.6 107.1,388.5 107.5,388.3 107.9,388.1 108.3,388 108.7,387.9 109.1,387.8 109.5,387.7 109.9,387.6 110.3,387.6 111.1,387.7 111.9,387.8 112.7,388 113.5,388.4 114.2,388.7 115,389.1 115.8,389.6 116.6,390.1 117.4,390.6 118.2,391.1 119,391.6 119.8,392.1 120.6,392.5 121.4,392.9 122.2,393.3 122.9,393.6 123.7,393.9 124.5,394.2 125.3,394.4 126.1,394.6 126.9,394.7 127.7,394.8 128.5,394.9 129.3,395 130.1,395 130.8,395.1 131.6,395.1 132.4,395.1 133.2,395.2 134,395.2 134.8,395.2 135.6,395.2 136.4,395.2 137.2,395.2 137.9,395.2 138.7,395.2 139.5,395.2 140.3,395.2 141.1,395.2 141.9,395.2 142.7,395.2 143.5,395.2 144.3,395.2 145.1,395.2 145.9,395.2 146.6,395.2 147.4,395.2 148.2,395.2 149,395.2 149.8,395.2 150.6,395.2 151.4,395.2 152.2,395.2 153,395.2 153.8,395.2 236.7,395.2" stroke="#80e4d4" stroke-width="0.85" fill="none"/>
<path d="M78.7,395.1 79.5,395 80.3,394.9 81.1,394.6 81.9,394.1 82.3,393.7 82.7,393.2 83,392.7 83.4,391.9 83.8,391 84.2,389.9 84.6,388.6 85,387 85.4,385.1 85.8,382.9 86.2,380.4 86.6,377.6 87,374.4 87.4,370.9 87.8,367.1 88.2,363 88.6,358.5 89,353.8 89.4,348.9 89.8,343.8 90.2,338.5 90.6,333 90.9,327.6 91.3,322.4 91.7,317.5 92.1,313.4 92.5,310.1 92.9,308 93.3,307.3 93.7,308 94.1,309.8 94.5,312.8 94.9,316.7 95.3,321.1 95.7,325.8 96.1,330.8 96.5,335.7 96.9,340.5 97.3,345.2 97.7,349.8 98.1,354.1 98.5,358.3 98.8,362.2 99.2,365.9 99.6,369.4 100,372.5 100.4,375.4 100.8,378 101.2,380.3 101.6,382.2 102,384 102.4,385.4 102.8,386.6 103.2,387.6 103.6,388.3 104,388.9 104.4,389.4 104.8,389.7 105.2,389.9 105.6,390 106,390 106.4,390 106.7,390 107.1,389.9 107.5,389.8 107.9,389.7 108.3,389.6 108.7,389.6 109.1,389.5 109.5,389.4 109.9,389.4 110.3,389.4 111.1,389.5 111.9,389.6 112.7,389.7 113.5,390 114.2,390.3 115,390.6 115.8,390.9 116.6,391.3 117.4,391.7 118.2,392.1 119,392.5 119.8,392.8 120.6,393.2 121.4,393.5 122.2,393.8 122.9,394 123.7,394.2 124.5,394.4 125.3,394.6 126.1,394.7 126.9,394.8 127.7,394.9 128.5,395 129.3,395 130.1,395.1 130.8,395.1 131.6,395.1 132.4,395.2 133.2,395.2 134,395.2 134.8,395.2 135.6,395.2 136.4,395.2 137.2,395.2 137.9,395.2 138.7,395.2 139.5,395.2 140.3,395.2 141.1,395.2 141.9,395.2 142.7,395.2 143.5,395.2 144.3,395.2 145.1,395.2 145.9,395.2 146.6,395.2 147.4,395.2 148.2,395.2 149,395.2 149.8,395.2 150.6,395.2 151.4,395.2 152.2,395.2 153,395.2 153.8,395.2 236.7,395.2" stroke="#80e4d4" stroke-width="0.85" fill="none"/>
<path d="M78.7,395.2 79.5,395.1 80.3,395 81.1,394.9 81.9,394.6 82.3,394.4 82.7,394.1 83,393.8 83.4,393.3 83.8,392.7 84.2,392 84.6,391.1 85,390.1 85.4,388.8 85.8,387.2 86.2,385.4 86.6,383.3 87,380.9 87.4,378.2 87.8,375.1 88.2,371.7 88.6,368 89,364 89.4,359.7 89.8,355.2 90.2,350.4 90.6,345.4 90.9,340.3 91.3,335.1 91.7,329.8 92.1,324.7 92.5,320.1 92.9,316 93.3,312.8 93.7,310.8 94.1,310.1 94.5,310.6 94.9,312 95.3,314.3 95.7,317.2 96.1,320.4 96.5,323.9 96.9,327.4 97.3,330.9 97.7,334.3 98.1,337.5 98.5,340.7 98.8,343.9 99.2,346.9 99.6,350 100,352.9 100.4,355.8 100.8,358.7 101.2,361.4 101.6,363.9 102,366.4 102.4,368.6 102.8,370.8 103.2,372.7 103.6,374.5 104,376 104.4,377.5 104.8,378.7 105.2,379.8 105.6,380.8 106,381.6 106.4,382.3 106.7,382.9 107.1,383.4 107.5,383.8 107.9,384.1 108.3,384.4 108.7,384.7 109.1,384.9 109.5,385.2 109.9,385.4 110.3,385.6 111.1,386 111.9,386.4 112.7,386.8 113.5,387.2 114.2,387.7 115,388.2 115.8,388.8 116.6,389.4 117.4,389.9 118.2,390.5 119,391.1 119.8,391.6 120.6,392.2 121.4,392.6 122.2,393 122.9,393.4 123.7,393.7 124.5,394 125.3,394.3 126.1,394.5 126.9,394.6 127.7,394.8 128.5,394.9 129.3,395 130.1,395 130.8,395.1 131.6,395.1 132.4,395.1 133.2,395.2 134,395.2 134.8,395.2 135.6,395.2 136.4,395.2 137.2,395.2 137.9,395.2 138.7,395.2 139.5,395.2 140.3,395.2 141.1,395.2 141.9,395.2 142.7,395.2 143.5,395.2 144.3,395.2 145.1,395.2 145.9,395.2 146.6,395.2 147.4,395.2 148.2,395.2 149,395.2 149.8,395.2 150.6,395.2 151.4,395.2 152.2,395.2 153,395.2 153.8,395.2 236.7,395.2" stroke="#80e4d4" stroke-width="0.85" fill="none"/>
<path d="M78.7,395.1 79.5,395.1 80.3,395 81.1,394.8 81.9,394.4 82.3,394.2 82.7,393.8 83,393.4 83.4,392.9 83.8,392.2 84.2,391.4 84.6,390.3 85,389.1 85.4,387.6 85.8,385.9 86.2,383.9 86.6,381.6 87,379 87.4,376.1 87.8,372.9 88.2,369.4 88.6,365.6 89,361.5 89.4,357.2 89.8,352.7 90.2,348 90.6,343.1 90.9,338.1 91.3,333.1 91.7,328.3 92.1,323.9 92.5,320 92.9,317 93.3,315.1 93.7,314.4 94.1,314.9 94.5,316.5 94.9,318.8 95.3,321.9 95.7,325.3 96.1,329.1 96.5,332.9 96.9,336.7 97.3,340.4 97.7,344 98.1,347.5 98.5,350.9 98.8,354.2 99.2,357.4 99.6,360.5 100,363.4 100.4,366.2 100.8,368.8 101.2,371.2 101.6,373.4 102,375.4 102.4,377.1 102.8,378.6 103.2,379.9 103.6,381.1 104,382 104.4,382.7 104.8,383.3 105.2,383.7 105.6,384 106,384.3 106.4,384.4 106.7,384.4 107.1,384.4 107.5,384.4 107.9,384.3 108.3,384.3 108.7,384.2 109.1,384.2 109.5,384.1 109.9,384.1 110.3,384.2 111.1,384.3 111.9,384.6 112.7,384.9 113.5,385.4 114.2,385.9 115,386.5 115.8,387.2 116.6,387.9 117.4,388.6 118.2,389.4 119,390.1 119.8,390.8 120.6,391.4 121.4,392 122.2,392.5 122.9,393 123.7,393.4 124.5,393.7 125.3,394 126.1,394.3 126.9,394.5 127.7,394.7 128.5,394.8 129.3,394.9 130.1,395 130.8,395 131.6,395.1 132.4,395.1 133.2,395.1 134,395.2 134.8,395.2 135.6,395.2 136.4,395.2 137.2,395.2 137.9,395.2 138.7,395.2 139.5,395.2 140.3,395.2 141.1,395.2 141.9,395.2 142.7,395.2 143.5,395.2 144.3,395.2 145.1,395.2 145.9,395.2 146.6,395.2 147.4,395.2 148.2,395.2 149,395.2 149.8,395.2 150.6,395.2 151.4,395.2 152.2,395.2 153,395.2 153.8,395.2 236.7,395.2" stroke="#80e4d4" stroke-width="0.85" fill="none"/>
<path d="M78.7,395.2 79.5,395.2 80.3,395.1 81.1,395 81.9,394.9 82.3,394.7 82.7,394.6 83,394.3 83.4,394 83.8,393.7 84.2,393.2 84.6,392.6 85,391.8 85.4,390.9 85.8,389.7 86.2,388.3 86.6,386.7 87,384.8 87.4,382.5 87.8,379.9 88.2,377 88.6,373.7 89,370.1 89.4,366.2 89.8,361.9 90.2,357.3 90.6,352.5 90.9,347.4 91.3,342.1 91.7,336.6 92.1,331 92.5,325.4 92.9,320 93.3,315 93.7,310.6 94.1,307.3 94.5,305.1 94.9,304.3 95.3,305.1 95.7,307.3 96.1,310.7 96.5,315.2 96.9,320.4 97.3,326 97.7,331.8 98.1,337.5 98.5,343.2 98.8,348.6 99.2,353.7 99.6,358.6 100,363 100.4,367.2 100.8,370.9 101.2,374.3 101.6,377.2 102,379.8 102.4,382 102.8,383.8 103.2,385.3 103.6,386.5 104,387.5 104.4,388.2 104.8,388.7 105.2,389 105.6,389.2 106,389.3 106.4,389.4 106.7,389.3 107.1,389.3 107.5,389.2 107.9,389.1 108.3,389 108.7,388.9 109.1,388.8 109.5,388.7 109.9,388.7 110.3,388.7 111.1,388.8 111.9,388.9 112.7,389.1 113.5,389.3 114.2,389.6 115,390 115.8,390.4 116.6,390.8 117.4,391.3 118.2,391.7 119,392.1 119.8,392.5 120.6,392.9 121.4,393.3 122.2,393.6 122.9,393.9 123.7,394.1 124.5,394.3 125.3,394.5 126.1,394.7 126.9,394.8 127.7,394.9 128.5,395 129.3,395 130.1,395.1 130.8,395.1 131.6,395.1 132.4,395.1 133.2,395.2 134,395.2 134.8,395.2 135.6,395.2 136.4,395.2 137.2,395.2 137.9,395.2 138.7,395.2 139.5,395.2 140.3,395.2 141.1,395.2 141.9,395.2 142.7,395.2 143.5,395.2 144.3,395.2 145.1,395.2 145.9,395.2 146.6,395.2 147.4,395.2 148.2,395.2 149,395.2 149.8,395.2 150.6,395.2 151.4,395.2 152.2,395.2 153,395.2 153.8,395.2 236.7,395.2" stroke="#80e4d4" stroke-width="0.85" fill="none"/>
<path d="M78.7,395.1 79.5,394.9 80.3,394.7 81.1,394.3 81.9,393.5 82.3,393 82.7,392.4 83,391.6 83.4,390.6 83.8,389.4 84.2,388 84.6,386.3 85,384.4 85.4,382.2 85.8,379.7 86.2,376.8 86.6,373.7 87,370.1 87.4,366.1 87.8,361.6 88.2,356.5 88.6,350.7 89,344.2 89.4,336.9 89.8,329.2 90.2,321.2 90.6,313.6 90.9,306.9 91.3,301.9 91.7,299.1 92.1,298.8 92.5,300.9 92.9,305.1 93.3,310.9 93.7,317.8 94.1,325 94.5,332 94.9,338.5 95.3,344.3 95.7,349.3 96.1,353.7 96.5,357.6 96.9,361 97.3,364 97.7,366.7 98.1,369.1 98.5,371.3 98.8,373.2 99.2,374.8 99.6,376.2 100,377.3 100.4,378.2 100.8,378.8 101.2,379.2 101.6,379.4 102,379.4 102.4,379.3 102.8,379.1 103.2,378.7 103.6,378.4 104,378 104.4,377.5 104.8,377.2 105.2,376.8 105.6,376.5 106,376.3 106.4,376.3 106.7,376.3 107.1,376.3 107.5,376.5 107.9,376.6 108.3,376.8 108.7,377 109.1,377.3 109.5,377.6 109.9,377.9 110.3,378.3 111.1,379.1 111.9,380 112.7,381.1 113.5,382.2 114.2,383.3 115,384.4 115.8,385.5 116.6,386.6 117.4,387.7 118.2,388.7 119,389.6 119.8,390.4 120.6,391.2 121.4,391.8 122.2,392.4 122.9,392.9 123.7,393.3 124.5,393.7 125.3,394 126.1,394.3 126.9,394.5 127.7,394.6 128.5,394.8 129.3,394.9 130.1,395 130.8,395 131.6,395.1 132.4,395.1 133.2,395.1 134,395.2 134.8,395.2 135.6,395.2 136.4,395.2 137.2,395.2 137.9,395.2 138.7,395.2 139.5,395.2 140.3,395.2 141.1,395.2 141.9,395.2 142.7,395.2 143.5,395.2 144.3,395.2 145.1,395.2 145.9,395.2 146.6,395.2 147.4,395.2 148.2,395.2 149,395.2 149.8,395.2 150.6,395.2 151.4,395.2 152.2,395.2 153,395.2 153.8,395.2 236.7,395.2" stroke="#b552e4" stroke-width="1.1" fill="none"/>
<path d="M78.7,394.7 79.5,394.3 80.3,393.6 81.1,392.4 81.9,390.6 82.3,389.4 82.7,388 83,386.3 83.4,384.4 83.8,382.2 84.2,379.7 84.6,376.8 85,373.6 85.4,369.9 85.8,365.7 86.2,360.9 86.6,355.5 87,349.5 87.4,342.9 87.8,336 88.2,329.3 88.6,323.1 89,318.2 89.4,314.9 89.8,313.8 90.2,314.8 90.6,317.7 90.9,322 91.3,327.4 91.7,333.3 92.1,339.1 92.5,344.7 92.9,349.6 93.3,354 93.7,357.9 94.1,361.2 94.5,364.2 94.9,366.9 95.3,369.4 95.7,371.7 96.1,373.8 96.5,375.7 96.9,377.5 97.3,379 97.7,380.4 98.1,381.6 98.5,382.5 98.8,383.3 99.2,383.9 99.6,384.3 100,384.5 100.4,384.5 100.8,384.4 101.2,384.2 101.6,383.8 102,383.4 102.4,382.9 102.8,382.4 103.2,381.8 103.6,381.2 104,380.7 104.4,380.2 104.8,379.7 105.2,379.3 105.6,379 106,378.7 106.4,378.6 106.7,378.6 107.1,378.6 107.5,378.7 107.9,378.8 108.3,378.9 108.7,379.1 109.1,379.4 109.5,379.6 109.9,379.9 110.3,380.2 111.1,381 111.9,381.8 112.7,382.7 113.5,383.7 114.2,384.7 115,385.7 115.8,386.7 116.6,387.6 117.4,388.5 118.2,389.4 119,390.2 119.8,391 120.6,391.6 121.4,392.2 122.2,392.7 122.9,393.2 123.7,393.6 124.5,393.9 125.3,394.2 126.1,394.4 126.9,394.6 127.7,394.7 128.5,394.8 129.3,394.9 130.1,395 130.8,395 131.6,395.1 132.4,395.1 133.2,395.1 134,395.2 134.8,395.2 135.6,395.2 136.4,395.2 137.2,395.2 137.9,395.2 138.7,395.2 139.5,395.2 140.3,395.2 141.1,395.2 141.9,395.2 142.7,395.2 143.5,395.2 144.3,395.2 145.1,395.2 145.9,395.2 146.6,395.2 147.4,395.2 148.2,395.2 149,395.2 149.8,395.2 150.6,395.2 151.4,395.2 152.2,395.2 153,395.2 153.8,395.2 236.7,395.2" stroke="#b552e4" stroke-width="1.1" fill="none"/>
<path d="M78.7,394.9 79.5,394.7 80.3,394.2 81.1,393.5 81.9,392.3 82.3,391.4 82.7,390.5 83,389.3 83.4,387.9 83.8,386.3 84.2,384.4 84.6,382.2 85,379.8 85.4,377.1 85.8,374 86.2,370.6 86.6,366.8 87,362.5 87.4,357.5 87.8,351.9 88.2,345.7 88.6,338.9 89,331.8 89.4,324.8 89.8,318.4 90.2,313.3 90.6,309.9 90.9,308.7 91.3,309.8 91.7,312.8 92.1,317.3 92.5,323 92.9,329.1 93.3,335.2 93.7,340.9 94.1,346.1 94.5,350.6 94.9,354.5 95.3,357.9 95.7,361 96.1,363.7 96.5,366.2 96.9,368.5 97.3,370.7 97.7,372.6 98.1,374.4 98.5,376.1 98.8,377.5 99.2,378.7 99.6,379.8 100,380.6 100.4,381.3 100.8,381.8 101.2,382.2 101.6,382.3 102,382.4 102.4,382.4 102.8,382.2 103.2,382.1 103.6,381.8 104,381.6 104.4,381.3 104.8,381 105.2,380.8 105.6,380.6 106,380.5 106.4,380.5 106.7,380.5 107.1,380.6 107.5,380.7 107.9,380.8 108.3,381 108.7,381.2 109.1,381.4 109.5,381.6 109.9,381.9 110.3,382.2 111.1,382.8 111.9,383.5 112.7,384.3 113.5,385.2 114.2,386 115,386.9 115.8,387.8 116.6,388.6 117.4,389.4 118.2,390.2 119,390.9 119.8,391.5 120.6,392.1 121.4,392.6 122.2,393 122.9,393.4 123.7,393.8 124.5,394.1 125.3,394.3 126.1,394.5 126.9,394.6 127.7,394.8 128.5,394.9 129.3,395 130.1,395 130.8,395.1 131.6,395.1 132.4,395.1 133.2,395.1 134,395.2 134.8,395.2 135.6,395.2 136.4,395.2 137.2,395.2 137.9,395.2 138.7,395.2 139.5,395.2 140.3,395.2 141.1,395.2 141.9,395.2 142.7,395.2 143.5,395.2 144.3,395.2 145.1,395.2 145.9,395.2 146.6,395.2 147.4,395.2 148.2,395.2 149,395.2 149.8,395.2 150.6,395.2 151.4,395.2 152.2,395.2 153,395.2 153.8,395.2 236.7,395.2" stroke="#b552e4" stroke-width="1.1" fill="none"/>
<path d="M78.7,395.2 79.5,395.1 80.3,395 81.1,394.8 81.9,394.4 82.3,394.2 82.7,393.8 83,393.4 83.4,392.9 83.8,392.2 84.2,391.4 84.6,390.4 85,389.3 85.4,387.9 85.8,386.3 86.2,384.5 86.6,382.4 87,380.1 87.4,377.5 87.8,374.6 88.2,371.3 88.6,367.6 89,363.4 89.4,358.7 89.8,353.3 90.2,347.4 90.6,341 90.9,334.4 91.3,328.2 91.7,322.7 92.1,318.6 92.5,316.2 92.9,316 93.3,317.6 93.7,320.9 94.1,325.4 94.5,330.6 94.9,336 95.3,341.3 95.7,346.1 96.1,350.3 96.5,353.9 96.9,357 97.3,359.7 97.7,362.1 98.1,364.2 98.5,366.2 98.8,368 99.2,369.7 99.6,371.3 100,372.7 100.4,374 100.8,375.2 101.2,376.2 101.6,377.1 102,377.9 102.4,378.6 102.8,379.1 103.2,379.5 103.6,379.9 104,380.2 104.4,380.4 104.8,380.6 105.2,380.8 105.6,381 106,381.2 106.4,381.4 106.7,381.7 107.1,381.9 107.5,382.2 107.9,382.4 108.3,382.6 108.7,382.9 109.1,383.2 109.5,383.4 109.9,383.7 110.3,384 111.1,384.6 111.9,385.2 112.7,385.9 113.5,386.7 114.2,387.4 115,388.1 115.8,388.9 116.6,389.6 117.4,390.3 118.2,390.9 119,391.5 119.8,392.1 120.6,392.6 121.4,393 122.2,393.4 122.9,393.7 123.7,394 124.5,394.2 125.3,394.4 126.1,394.6 126.9,394.7 127.7,394.8 128.5,394.9 129.3,395 130.1,395 130.8,395.1 131.6,395.1 132.4,395.1 133.2,395.2 134,395.2 134.8,395.2 135.6,395.2 136.4,395.2 137.2,395.2 137.9,395.2 138.7,395.2 139.5,395.2 140.3,395.2 141.1,395.2 141.9,395.2 142.7,395.2 143.5,395.2 144.3,395.2 145.1,395.2 145.9,395.2 146.6,395.2 147.4,395.2 148.2,395.2 149,395.2 149.8,395.2 150.6,395.2 151.4,395.2 152.2,395.2 153,395.2 153.8,395.2 236.7,395.2" stroke="#b552e4" stroke-width="1.1" fill="none"/>
<path d="M78.7,395 79.5,394.9 80.3,394.6 81.1,394 81.9,393.2 82.3,392.6 82.7,391.9 83,391.1 83.4,390 83.8,388.8 84.2,387.4 84.6,385.7 85,383.8 85.4,381.7 85.8,379.3 86.2,376.7 86.6,373.7 87,370.3 87.4,366.5 87.8,362.2 88.2,357.4 88.6,351.9 89,345.9 89.4,339.7 89.8,333.6 90.2,328 90.6,323.5 90.9,320.6 91.3,319.5 91.7,320.4 92.1,322.9 92.5,326.7 92.9,331.4 93.3,336.5 93.7,341.4 94.1,346.1 94.5,350.2 94.9,353.7 95.3,356.7 95.7,359.3 96.1,361.6 96.5,363.7 96.9,365.6 97.3,367.4 97.7,369.1 98.1,370.7 98.5,372.2 98.8,373.7 99.2,375 99.6,376.3 100,377.4 100.4,378.4 100.8,379.3 101.2,380 101.6,380.7 102,381.3 102.4,381.7 102.8,382.1 103.2,382.4 103.6,382.7 104,382.9 104.4,383 104.8,383.2 105.2,383.3 105.6,383.4 106,383.6 106.4,383.8 106.7,384 107.1,384.2 107.5,384.4 107.9,384.6 108.3,384.8 108.7,385 109.1,385.2 109.5,385.4 109.9,385.7 110.3,385.9 111.1,386.4 111.9,387 112.7,387.6 113.5,388.2 114.2,388.8 115,389.4 115.8,390 116.6,390.6 117.4,391.1 118.2,391.7 119,392.2 119.8,392.6 120.6,393 121.4,393.4 122.2,393.7 122.9,394 123.7,394.2 124.5,394.4 125.3,394.6 126.1,394.7 126.9,394.8 127.7,394.9 128.5,395 129.3,395 130.1,395.1 130.8,395.1 131.6,395.1 132.4,395.1 133.2,395.2 134,395.2 134.8,395.2 135.6,395.2 136.4,395.2 137.2,395.2 137.9,395.2 138.7,395.2 139.5,395.2 140.3,395.2 141.1,395.2 141.9,395.2 142.7,395.2 143.5,395.2 144.3,395.2 145.1,395.2 145.9,395.2 146.6,395.2 147.4,395.2 148.2,395.2 149,395.2 149.8,395.2 150.6,395.2 151.4,395.2 152.2,395.2 153,395.2 153.8,395.2 236.7,395.2" stroke="#b552e4" stroke-width="1.1" fill="none"/>
<path d="M78.7,395.2 79.5,395.1 80.3,395.1 81.1,394.9 81.9,394.7 82.3,394.5 82.7,394.3 83,394 83.4,393.6 83.8,393.1 84.2,392.5 84.6,391.8 85,390.9 85.4,389.8 85.8,388.6 86.2,387.1 86.6,385.5 87,383.6 87.4,381.5 87.8,379.1 88.2,376.5 88.6,373.5 89,370.1 89.4,366.3 89.8,362 90.2,357.1 90.6,351.7 90.9,345.9 91.3,340 91.7,334.3 92.1,329.3 92.5,325.6 92.9,323.4 93.3,323.2 93.7,324.6 94.1,327.5 94.5,331.4 94.9,336 95.3,340.7 95.7,345.1 96.1,349.2 96.5,352.7 96.9,355.7 97.3,358.2 97.7,360.3 98.1,362.2 98.5,363.9 98.8,365.5 99.2,367 99.6,368.5 100,369.8 100.4,371.2 100.8,372.4 101.2,373.6 101.6,374.8 102,375.8 102.4,376.8 102.8,377.7 103.2,378.5 103.6,379.3 104,380 104.4,380.7 104.8,381.3 105.2,381.9 105.6,382.4 106,382.9 106.4,383.4 106.7,383.9 107.1,384.4 107.5,384.9 107.9,385.3 108.3,385.7 108.7,386 109.1,386.4 109.5,386.7 109.9,387 110.3,387.3 111.1,387.9 111.9,388.5 112.7,389 113.5,389.5 114.2,390.1 115,390.6 115.8,391.1 116.6,391.6 117.4,392 118.2,392.4 119,392.8 119.8,393.2 120.6,393.5 121.4,393.8 122.2,394 122.9,394.2 123.7,394.4 124.5,394.6 125.3,394.7 126.1,394.8 126.9,394.9 127.7,395 128.5,395 129.3,395.1 130.1,395.1 130.8,395.1 131.6,395.1 132.4,395.2 133.2,395.2 134,395.2 134.8,395.2 135.6,395.2 136.4,395.2 137.2,395.2 137.9,395.2 138.7,395.2 139.5,395.2 140.3,395.2 141.1,395.2 141.9,395.2 142.7,395.2 143.5,395.2 144.3,395.2 145.1,395.2 145.9,395.2 146.6,395.2 147.4,395.2 148.2,395.2 149,395.2 149.8,395.2 150.6,395.2 151.4,395.2 152.2,395.2 153,395.2 153.8,395.2 236.7,395.2" stroke="#b552e4" stroke-width="1.1" fill="none"/>
<path d="M78.7,394.9 79.5,394.6 80.3,394.2 81.1,393.4 81.9,392.2 82.3,391.4 82.7,390.5 83,389.4 83.4,388.1 83.8,386.6 84.2,384.9 84.6,383 85,380.9 85.4,378.4 85.8,375.7 86.2,372.7 86.6,369.3 87,365.4 87.4,361 87.8,356 88.2,350.6 88.6,345 89,339.5 89.4,334.4 89.8,330.4 90.2,327.7 90.6,326.8 90.9,327.6 91.3,329.8 91.7,333.2 92.1,337.3 92.5,341.7 92.9,346.1 93.3,350.1 93.7,353.6 94.1,356.6 94.5,359.2 94.9,361.3 95.3,363.2 95.7,365 96.1,366.6 96.5,368.1 96.9,369.6 97.3,371.1 97.7,372.5 98.1,373.8 98.5,375.2 98.8,376.4 99.2,377.6 99.6,378.7 100,379.8 100.4,380.7 100.8,381.6 101.2,382.4 101.6,383.1 102,383.8 102.4,384.3 102.8,384.8 103.2,385.3 103.6,385.7 104,386 104.4,386.4 104.8,386.7 105.2,386.9 105.6,387.2 106,387.4 106.4,387.7 106.7,387.9 107.1,388.1 107.5,388.4 107.9,388.6 108.3,388.8 108.7,389 109.1,389.1 109.5,389.3 109.9,389.5 110.3,389.7 111.1,390 111.9,390.4 112.7,390.8 113.5,391.1 114.2,391.5 115,391.9 115.8,392.2 116.6,392.6 117.4,392.9 118.2,393.2 119,393.5 119.8,393.7 120.6,394 121.4,394.2 122.2,394.3 122.9,394.5 123.7,394.6 124.5,394.7 125.3,394.8 126.1,394.9 126.9,395 127.7,395 128.5,395.1 129.3,395.1 130.1,395.1 130.8,395.1 131.6,395.2 132.4,395.2 133.2,395.2 134,395.2 134.8,395.2 135.6,395.2 136.4,395.2 137.2,395.2 137.9,395.2 138.7,395.2 139.5,395.2 140.3,395.2 141.1,395.2 141.9,395.2 142.7,395.2 143.5,395.2 144.3,395.2 145.1,395.2 145.9,395.2 146.6,395.2 147.4,395.2 148.2,395.2 149,395.2 149.8,395.2 150.6,395.2 151.4,395.2 152.2,395.2 153,395.2 153.8,395.2 236.7,395.2" stroke="#b552e4" stroke-width="1.1" fill="none"/>
<path d="M78.7,395.1 79.5,395.1 80.3,395 81.1,394.8 81.9,394.4 82.3,394.2 82.7,393.9 83,393.5 83.4,392.9 83.8,392.3 84.2,391.6 84.6,390.7 85,389.6 85.4,388.3 85.8,386.9 86.2,385.3 86.6,383.4 87,381.3 87.4,379 87.8,376.4 88.2,373.4 88.6,370.1 89,366.3 89.4,362 89.8,357.2 90.2,352 90.6,346.6 90.9,341.2 91.3,336.3 91.7,332.3 92.1,329.7 92.5,328.8 92.9,329.6 93.3,331.8 93.7,335.2 94.1,339.3 94.5,343.8 94.9,348.3 95.3,352.5 95.7,356.2 96.1,359.3 96.5,362.1 96.9,364.4 97.3,366.4 97.7,368.2 98.1,369.8 98.5,371.3 98.8,372.7 99.2,373.9 99.6,375.1 100,376.1 100.4,377 100.8,377.7 101.2,378.4 101.6,378.9 102,379.3 102.4,379.6 102.8,379.8 103.2,380 103.6,380.1 104,380.1 104.4,380.1 104.8,380.1 105.2,380.2 105.6,380.2 106,380.3 106.4,380.4 106.7,380.6 107.1,380.8 107.5,381 107.9,381.2 108.3,381.4 108.7,381.6 109.1,381.9 109.5,382.1 109.9,382.4 110.3,382.7 111.1,383.4 111.9,384.1 112.7,384.9 113.5,385.7 114.2,386.5 115,387.3 115.8,388.1 116.6,388.9 117.4,389.7 118.2,390.4 119,391.1 119.8,391.7 120.6,392.2 121.4,392.7 122.2,393.2 122.9,393.5 123.7,393.8 124.5,394.1 125.3,394.3 126.1,394.5 126.9,394.7 127.7,394.8 128.5,394.9 129.3,395 130.1,395 130.8,395.1 131.6,395.1 132.4,395.1 133.2,395.1 134,395.2 134.8,395.2 135.6,395.2 136.4,395.2 137.2,395.2 137.9,395.2 138.7,395.2 139.5,395.2 140.3,395.2 141.1,395.2 141.9,395.2 142.7,395.2 143.5,395.2 144.3,395.2 145.1,395.2 145.9,395.2 146.6,395.2 147.4,395.2 148.2,395.2 149,395.2 149.8,395.2 150.6,395.2 151.4,395.2 152.2,395.2 153,395.2 153.8,395.2 236.7,395.2" stroke="#b552e4" stroke-width="1.1" fill="none"/>
<path d="M78.7,395.1 79.5,395 80.3,394.8 81.1,394.5 81.9,393.9 82.3,393.5 82.7,393 83,392.4 83.4,391.7 83.8,390.9 84.2,389.8 84.6,388.6 85,387.3 85.4,385.7 85.8,383.9 86.2,381.9 86.6,379.7 87,377.2 87.4,374.4 87.8,371.2 88.2,367.6 88.6,363.5 89,358.9 89.4,353.9 89.8,348.7 90.2,343.6 90.6,338.9 90.9,335.1 91.3,332.7 91.7,331.8 92.1,332.6 92.5,334.7 92.9,337.9 93.3,341.9 93.7,346.2 94.1,350.4 94.5,354.4 94.9,357.9 95.3,361 95.7,363.6 96.1,365.9 96.5,367.9 96.9,369.8 97.3,371.5 97.7,373.1 98.1,374.7 98.5,376.2 98.8,377.7 99.2,379 99.6,380.3 100,381.5 100.4,382.7 100.8,383.7 101.2,384.6 101.6,385.5 102,386.2 102.4,386.9 102.8,387.5 103.2,388 103.6,388.5 104,388.9 104.4,389.2 104.8,389.5 105.2,389.8 105.6,390 106,390.3 106.4,390.5 106.7,390.6 107.1,390.8 107.5,391 107.9,391.1 108.3,391.2 108.7,391.4 109.1,391.5 109.5,391.6 109.9,391.7 110.3,391.8 111.1,392 111.9,392.2 112.7,392.5 113.5,392.7 114.2,392.9 115,393.1 115.8,393.3 116.6,393.6 117.4,393.8 118.2,393.9 119,394.1 119.8,394.3 120.6,394.4 121.4,394.5 122.2,394.7 122.9,394.8 123.7,394.8 124.5,394.9 125.3,395 126.1,395 126.9,395.1 127.7,395.1 128.5,395.1 129.3,395.1 130.1,395.2 130.8,395.2 131.6,395.2 132.4,395.2 133.2,395.2 134,395.2 134.8,395.2 135.6,395.2 136.4,395.2 137.2,395.2 137.9,395.2 138.7,395.2 139.5,395.2 140.3,395.2 141.1,395.2 141.9,395.2 142.7,395.2 143.5,395.2 144.3,395.2 145.1,395.2 145.9,395.2 146.6,395.2 147.4,395.2 148.2,395.2 149,395.2 149.8,395.2 150.6,395.2 151.4,395.2 152.2,395.2 153,395.2 153.8,395.2 236.7,395.2" stroke="#b552e4" stroke-width="1.1" fill="none"/>
<path d="M78.7,395.1 79.5,395 80.3,394.8 81.1,394.5 81.9,394 82.3,393.6 82.7,393.1 83,392.5 83.4,391.7 83.8,390.7 84.2,389.6 84.6,388.2 85,386.7 85.4,384.8 85.8,382.7 86.2,380.3 86.6,377.6 87,374.6 87.4,371.3 87.8,367.5 88.2,363.2 88.6,358.4 89,352.9 89.4,346.7 89.8,339.9 90.2,332.6 90.6,325.3 90.9,318.3 91.3,312.4 91.7,308.1 92.1,306 92.5,306.1 92.9,308.5 93.3,312.7 93.7,318.2 94.1,324.6 94.5,331.1 94.9,337.3 95.3,343.1 95.7,348.2 96.1,352.6 96.5,356.4 96.9,359.8 97.3,362.8 97.7,365.4 98.1,367.8 98.5,370 98.8,372 99.2,373.7 99.6,375.2 100,376.5 100.4,377.6 100.8,378.5 101.2,379.2 101.6,379.6 102,379.9 102.4,380.1 102.8,380.1 103.2,380.1 103.6,380 104,379.8 104.4,379.6 104.8,379.4 105.2,379.2 105.6,379 106,379 106.4,378.9 106.7,379 107.1,379.1 107.5,379.2 107.9,379.4 108.3,379.6 108.7,379.8 109.1,380 109.5,380.3 109.9,380.5 110.3,380.9 111.1,381.6 111.9,382.4 112.7,383.2 113.5,384.2 114.2,385.1 115,386.1 115.8,387 116.6,387.9 117.4,388.8 118.2,389.7 119,390.4 119.8,391.1 120.6,391.8 121.4,392.3 122.2,392.8 122.9,393.3 123.7,393.6 124.5,393.9 125.3,394.2 126.1,394.4 126.9,394.6 127.7,394.7 128.5,394.8 129.3,394.9 130.1,395 130.8,395 131.6,395.1 132.4,395.1 133.2,395.1 134,395.2 134.8,395.2 135.6,395.2 136.4,395.2 137.2,395.2 137.9,395.2 138.7,395.2 139.5,395.2 140.3,395.2 141.1,395.2 141.9,395.2 142.7,395.2 143.5,395.2 144.3,395.2 145.1,395.2 145.9,395.2 146.6,395.2 147.4,395.2 148.2,395.2 149,395.2 149.8,395.2 150.6,395.2 151.4,395.2 152.2,395.2 153,395.2 153.8,395.2 236.7,395.2" stroke="#b552e4" stroke-width="1.1" fill="none"/>
<path d="M141.6,303.4 L101.8,281.8" stroke="#222" stroke-width="0.85"/>
<path d="M99.1,280.3 L103,280.7 L101.8,283.1 Z" fill="#111"/>
<text font-size="10.2"><tspan x="142.3" y="319.2">First peak of T2</tspan><tspan x="142.3" y="330.9">distribution</tspan><tspan x="142.3" y="342.6">= Mean 1 MIML</tspan></text>
<g fill="#000" stroke="#000" stroke-width="0.45" font-size="26"><text class="p" transform="translate(1.3,203.6) scale(0.9,1)">a</text>
<text class="p" x="1.8" y="442.2">b</text>
<text class="p" x="284.3" y="442">c</text>
<text class="p" x="479" y="442.6">d</text></g>
<defs><clipPath id="mc"><rect x="320.1" y="216.1" width="88.5" height="201.7"/></clipPath><clipPath id="legc"><path d="M411,218.3 C408.8,218.5 402.2,219 398,219.6 C393.8,220.2 390.8,220.6 386,221.7 C381.2,222.8 373.5,224.2 369,226 C364.5,227.8 362,230.1 358.9,232.7 C355.8,235.2 352.9,238.2 350.4,241.3 C347.8,244.4 345.9,247.5 343.6,251.5 C341.3,255.5 338.8,260 336.7,265.1 C334.6,270.2 332.2,278 330.8,282.1 C329.4,286.2 328.9,287 328.2,290 C327.5,293 326.9,295.8 326.6,300 C326.3,304.2 326.1,310 326.4,315 C326.7,320 327.3,324.2 328.3,330 C329.3,335.8 331.2,344.2 332.6,350 C334.1,355.8 335.3,360 337,365 C338.7,370 340.9,375.7 342.7,380 C344.5,384.3 345.9,387.8 348,391 C350.1,394.2 352.5,397.2 355,399.5 C357.5,401.8 360.1,403.2 363,404.5 C365.9,405.8 369.8,406.8 372.5,407.3 C375.2,407.8 377,408.2 379.3,407.6 C381.6,407.1 383.8,405.7 386.1,404 C388.4,402.3 390.7,398.7 393,397.6 C395.3,396.5 397.5,396.9 399.8,397.3 C402.1,397.8 404.7,399.7 406.6,400.3 C408.5,400.9 410.3,400.9 411,401 L412,216 Z"/></clipPath><filter id="bl1" x="-20%" y="-20%" width="140%" height="140%"><feGaussianBlur stdDeviation="1.2"/></filter><filter id="bl2" x="-20%" y="-20%" width="140%" height="140%"><feGaussianBlur stdDeviation="2.5"/></filter><filter id="bl05" x="-20%" y="-20%" width="140%" height="140%"><feGaussianBlur stdDeviation="0.6"/></filter><linearGradient id="lg1" gradientUnits="userSpaceOnUse" x1="0" y1="216" x2="0" y2="410"><stop offset="0" stop-color="#4c4c4c"/><stop offset="0.2" stop-color="#6e6e6e"/><stop offset="0.5" stop-color="#808080"/><stop offset="1" stop-color="#7c7c7c"/></linearGradient><linearGradient id="rg" gradientUnits="userSpaceOnUse" x1="0" y1="220" x2="0" y2="400"><stop offset="0" stop-color="#7a7a7a"/><stop offset="0.3" stop-color="#b8b8b8"/><stop offset="0.5" stop-color="#dcdcdc"/><stop offset="1" stop-color="#d4d4d4"/></linearGradient><linearGradient id="bandg" gradientUnits="userSpaceOnUse" x1="0" y1="250" x2="0" y2="400"><stop offset="0" stop-color="#a4a4a4" stop-opacity="0"/><stop offset="0.3" stop-color="#a4a4a4" stop-opacity="0.8"/><stop offset="1" stop-color="#aaaaaa" stop-opacity="0.9"/></linearGradient><linearGradient id="rdk" x1="0" y1="0" x2="1" y2="0"><stop offset="0" stop-color="#000" stop-opacity="0"/><stop offset="1" stop-color="#000" stop-opacity="0.45"/></linearGradient></defs>
<rect x="320.1" y="216.1" width="88.5" height="201.7" fill="#060606"/>
<g clip-path="url(#mc)">
<path d="M356,216 L412,216 L412,240 L380,228 Z" fill="#383838" filter="url(#bl1)"/>
<path d="M411,218.3 C408.8,218.5 402.2,219 398,219.6 C393.8,220.2 390.8,220.6 386,221.7 C381.2,222.8 373.5,224.2 369,226 C364.5,227.8 362,230.1 358.9,232.7 C355.8,235.2 352.9,238.2 350.4,241.3 C347.8,244.4 345.9,247.5 343.6,251.5 C341.3,255.5 338.8,260 336.7,265.1 C334.6,270.2 332.2,278 330.8,282.1 C329.4,286.2 328.9,287 328.2,290 C327.5,293 326.9,295.8 326.6,300 C326.3,304.2 326.1,310 326.4,315 C326.7,320 327.3,324.2 328.3,330 C329.3,335.8 331.2,344.2 332.6,350 C334.1,355.8 335.3,360 337,365 C338.7,370 340.9,375.7 342.7,380 C344.5,384.3 345.9,387.8 348,391 C350.1,394.2 352.5,397.2 355,399.5 C357.5,401.8 360.1,403.2 363,404.5 C365.9,405.8 369.8,406.8 372.5,407.3 C375.2,407.8 377,408.2 379.3,407.6 C381.6,407.1 383.8,405.7 386.1,404 C388.4,402.3 390.7,398.7 393,397.6 C395.3,396.5 397.5,396.9 399.8,397.3 C402.1,397.8 404.7,399.7 406.6,400.3 C408.5,400.9 410.3,400.9 411,401 L412,216 Z" fill="url(#lg1)"/>
<g clip-path="url(#legc)">
<path d="M398,219.6 C396,219.9 390.8,220.6 386,221.7 C381.2,222.8 373.5,224.2 369,226 C364.5,227.8 362,230.1 358.9,232.7 C355.8,235.2 352.9,238.2 350.4,241.3 C347.8,244.4 345.9,247.5 343.6,251.5 C341.3,255.5 338.8,260 336.7,265.1 C334.6,270.2 332.2,278 330.8,282.1 C329.4,286.2 328.9,287 328.2,290 C327.5,293 326.9,295.8 326.6,300 C326.3,304.2 326.1,310 326.4,315 C326.7,320 327.3,324.2 328.3,330 C329.3,335.8 331.2,344.2 332.6,350 C334.1,355.8 335.3,360 337,365 C338.7,370 340.9,375.7 342.7,380 C344.5,384.3 345.9,387.8 348,391 C350.1,394.2 352.5,397.2 355,399.5 C357.5,401.8 360.1,403.2 363,404.5 C365.9,405.8 370.9,406.8 372.5,407.3" stroke="url(#bandg)" stroke-width="22" fill="none" filter="url(#bl1)"/>
<path d="M398,219.6 C396,219.9 390.8,220.6 386,221.7 C381.2,222.8 373.5,224.2 369,226 C364.5,227.8 362,230.1 358.9,232.7 C355.8,235.2 352.9,238.2 350.4,241.3 C347.8,244.4 345.9,247.5 343.6,251.5 C341.3,255.5 338.8,260 336.7,265.1 C334.6,270.2 332.2,278 330.8,282.1 C329.4,286.2 328.9,287 328.2,290 C327.5,293 326.9,295.8 326.6,300 C326.3,304.2 326.1,310 326.4,315 C326.7,320 327.3,324.2 328.3,330 C329.3,335.8 331.2,344.2 332.6,350 C334.1,355.8 335.3,360 337,365 C338.7,370 340.9,375.7 342.7,380 C344.5,384.3 345.9,387.8 348,391 C350.1,394.2 352.5,397.2 355,399.5 C357.5,401.8 360.1,403.2 363,404.5 C365.9,405.8 370.9,406.8 372.5,407.3" stroke="url(#rg)" stroke-width="6" fill="none" filter="url(#bl05)"/>
<path d="M337,300 C336.9,302.5 336.2,310 336.5,315 C336.8,320 337.5,324.5 338.5,330 C339.5,335.5 341.1,342.7 342.5,348 C343.9,353.3 345.3,357.3 347,362 C348.7,366.7 350.7,371.8 352.5,376 C354.3,380.2 355.9,383.7 358,387 C360.1,390.3 363.8,394.5 365,396" stroke="#c4c4c4" stroke-width="1.2" fill="none" opacity="0.7" filter="url(#bl05)"/>
<rect x="398" y="216" width="14" height="190" fill="url(#rdk)"/>
<path d="M334,292 C336,286 346,285 351,290 L364,350 L383,385 C381,393 372,396 362,392 L349,352 Z" fill="#8e8e8e" filter="url(#bl1)"/>
<path d="M340,300 L356,380 M344,298 L361,375 M356,300 L368,350 M362,300 L372,345 M347,320 L356,360 M366,305 L375,350" stroke="#666" stroke-width="0.6" fill="none" opacity="0.6"/>
<ellipse cx="390.5" cy="324" rx="12.5" ry="21" fill="#a4a4a4" filter="url(#bl2)"/>
<ellipse cx="395" cy="288" rx="10" ry="6" fill="#949494" filter="url(#bl1)"/>
<path d="M397,296 C392,297 388,298 386.9,299.3 C384,302 382.5,304 381.5,306.5 C379.5,310 378.5,313 377.9,315.5 C377,319 376.5,322 376.1,324.4 C375.6,328 375,331 374.3,336" stroke="#3a3a3a" stroke-width="2.4" fill="none" filter="url(#bl1)"/>
<path d="M385,296.5 C390,295 398,295 407,297" stroke="#363636" stroke-width="3" fill="none" filter="url(#bl1)"/>
<rect x="396" y="226" width="14" height="46" fill="#333" filter="url(#bl2)"/>
<ellipse cx="384.6" cy="247" rx="6" ry="5" fill="#161616" filter="url(#bl05)"/>
<ellipse cx="381.2" cy="239.5" rx="3.4" ry="3" fill="#b0b0b0" filter="url(#bl05)"/>
<path d="M361.9,240.5 C365,241 369,242 372,243.8" stroke="#2a2a2a" stroke-width="1.6" fill="none" filter="url(#bl05)"/>
<ellipse cx="360.2" cy="270.5" rx="3.4" ry="3.2" fill="none" stroke="#1e1e1e" stroke-width="1.4" filter="url(#bl05)"/>
<ellipse cx="377.4" cy="288" rx="3.6" ry="2.2" fill="none" stroke="#1e1e1e" stroke-width="1.3" filter="url(#bl05)"/>
<path d="M357,291 C360,293 364,296 367,298" stroke="#2a2a2a" stroke-width="1.4" fill="none" filter="url(#bl05)"/>
<ellipse cx="378.5" cy="399" rx="5.5" ry="2.5" fill="#f0f0f0" filter="url(#bl1)"/>
<ellipse cx="366" cy="396" rx="3" ry="2" fill="#d8d8d8" filter="url(#bl1)"/>
</g>
</g>
<path d="M333.6,294.5 L336.2,287.2 L349.4,287.2 L351,300 L362.9,350 L376.5,376.4 L382.2,386.4 L379,389.5 L374,391.3 L366.7,393.5 L359.7,386.9 L348.7,350 L335.4,300 Z" stroke="#1a1a1a" stroke-width="2.0" fill="none" stroke-linejoin="round"/>
<path d="M333.6,294.5 L336.2,287.2 L349.4,287.2 L351,300 L362.9,350 L376.5,376.4 L382.2,386.4 L379,389.5 L374,391.3 L366.7,393.5 L359.7,386.9 L348.7,350 L335.4,300 Z" stroke="#eab424" stroke-width="2.1" fill="none" stroke-dasharray="4.4,2.4"/>
<path d="M371,292.4 V371" stroke="#e6f03a" stroke-width="1.6"/>
<path d="M367.9,365.2 L371,372.4 L374.1,365.2" stroke="#e6f03a" stroke-width="1.6" fill="none"/>
<circle cx="369.5" cy="380.1" r="3.2" fill="#eef040"/>
<text x="326.6" y="232.7" font-size="12.2" fill="#e8c030" style="stroke:#e8c030">Femur</text>
<text x="329.7" y="266.7" font-size="12.5" fill="#e4ee3c" style="stroke:#e4ee3c">ROI= bone</text>
<text x="330.4" y="279.5" font-size="12.5" fill="#e4ee3c" style="stroke:#e4ee3c">metaphysis</text>
<text x="324.4" y="408.9" font-size="12.3" font-style="italic" fill="#f4f4f4" class="c">5mm</text>
<path d="M322.9,413.2 H365.4" stroke="#c8c8c8" stroke-width="1.4"/>
<path d="M544.4,258 V394.3 M538.6,258 H545 M538.6,326 H545 M538.6,394 H545 M538.4,394 H634.8 M562,394 V399.6 M589.6,394 V399.6 M616.9,394 V399.6" stroke="#111" stroke-width="1.3" fill="none"/>
<text x="534.4" y="263.4" text-anchor="end" font-size="11.5">30</text>
<text x="534.4" y="331.4" text-anchor="end" font-size="11.5">20</text>
<text x="534.4" y="400.2" text-anchor="end" font-size="11.5">10</text>
<text transform="translate(501,318.3) rotate(-90)" text-anchor="middle" dy="4" font-size="12.4">Mean 1 MIML (ms)</text>
<text transform="translate(567.3,406.2) rotate(-45)" text-anchor="end" font-size="13">Controls</text>
<text transform="translate(593.1,407.5) rotate(-45)" text-anchor="end" font-size="13">LPS</text>
<text transform="translate(625.2,405.4) rotate(-45)" text-anchor="end" font-size="13">LPS+</text>
<text transform="translate(632,418.4) rotate(-45)" text-anchor="end" font-size="13">STZ</text>
<path d="M562.2,283.4 V261.4 H617.2 V269.7 M562.2,299.3 V291.4 H587.1 V310.5 M591.9,310.5 V291.4 H617.2 V321.7" stroke="#111" stroke-width="1.3" fill="none"/>
<path d="M585.8,248.5V254.5M583.20,250.00L588.40,253.00M588.40,250.00L583.20,253.00M594,248.5V254.5M591.40,250.00L596.60,253.00M596.60,250.00L591.40,253.00M602.2,248.5V254.5M599.60,250.00L604.80,253.00M604.80,250.00L599.60,253.00M574.6,278.4V284.4M572.00,279.90L577.20,282.90M577.20,279.90L572.00,282.90" stroke="#111" stroke-width="1.55" stroke-linecap="round" fill="none"/>
<text x="604.8" y="284.3" text-anchor="middle" font-size="11.5">ns</text>
<circle cx="562.2" cy="306.8" r="4.2" fill="#8a8a8a"/>
<circle cx="557.5" cy="314.8" r="4.2" fill="#8a8a8a"/>
<circle cx="566.8" cy="314.8" r="4.2" fill="#8a8a8a"/>
<circle cx="562.2" cy="312" r="4.2" fill="#8a8a8a"/>
<circle cx="562.2" cy="320.5" r="4.2" fill="#8a8a8a"/>
<circle cx="558.5" cy="318.5" r="4.2" fill="#8a8a8a"/>
<circle cx="566" cy="318.5" r="4.2" fill="#8a8a8a"/>
<circle cx="562.2" cy="333.4" r="4.2" fill="#8a8a8a"/>
<path d="M594.6,314L598.9,318.3L594.6,322.6L590.3,318.3ZM584.5,320.1L588.8,324.4L584.5,328.7L580.2,324.4ZM590.4,321.5L594.7,325.8L590.4,330.1L586.1,325.8ZM595.5,325.9L599.8,330.2L595.5,334.5L591.2,330.2ZM584.5,330.3L588.8,334.6L584.5,338.9L580.2,334.6ZM594.7,337.6L599,341.9L594.7,346.2L590.4,341.9ZM588.9,337.6L593.2,341.9L588.9,346.2L584.6,341.9ZM589.6,345.6L593.9,349.9L589.6,354.2L585.3,349.9ZM589.5,326.7L593.8,331L589.5,335.3L585.2,331Z" fill="#6ddcc8"/>
<path d="M607.7,326.6L615.9,326.6L611.8,333.8ZM617.4,326.6L625.6,326.6L621.5,333.8ZM612.6,326.6L620.8,326.6L616.7,333.8ZM609.4,330.4L617.6,330.4L613.5,337.6ZM615.7,330.4L623.9,330.4L619.8,337.6ZM612.6,334.9L620.8,334.9L616.7,342.1ZM612.9,349.2L621.1,349.2L617,356.4ZM612.9,360.2L621.1,360.2L617,367.4Z" fill="#b24ee6"/>
<path d="M562.3,314.6V320.7 M558.1,314.6H566.5 M558.1,320.7H566.5M589.8,329.9V337.2 M585.5,329.9H594 M585.5,337.2H594M616.8,335.3V344.1 M612,335.3H621.5 M612,344.1H621.5" stroke="#222" stroke-width="1.0" fill="none"/>
<path d="M553.5,317.6H571.1 M580.8,333.4H598.8 M607.8,340H625.8" stroke="#000" stroke-width="1.5" fill="none"/>
</svg>
</body></html>
